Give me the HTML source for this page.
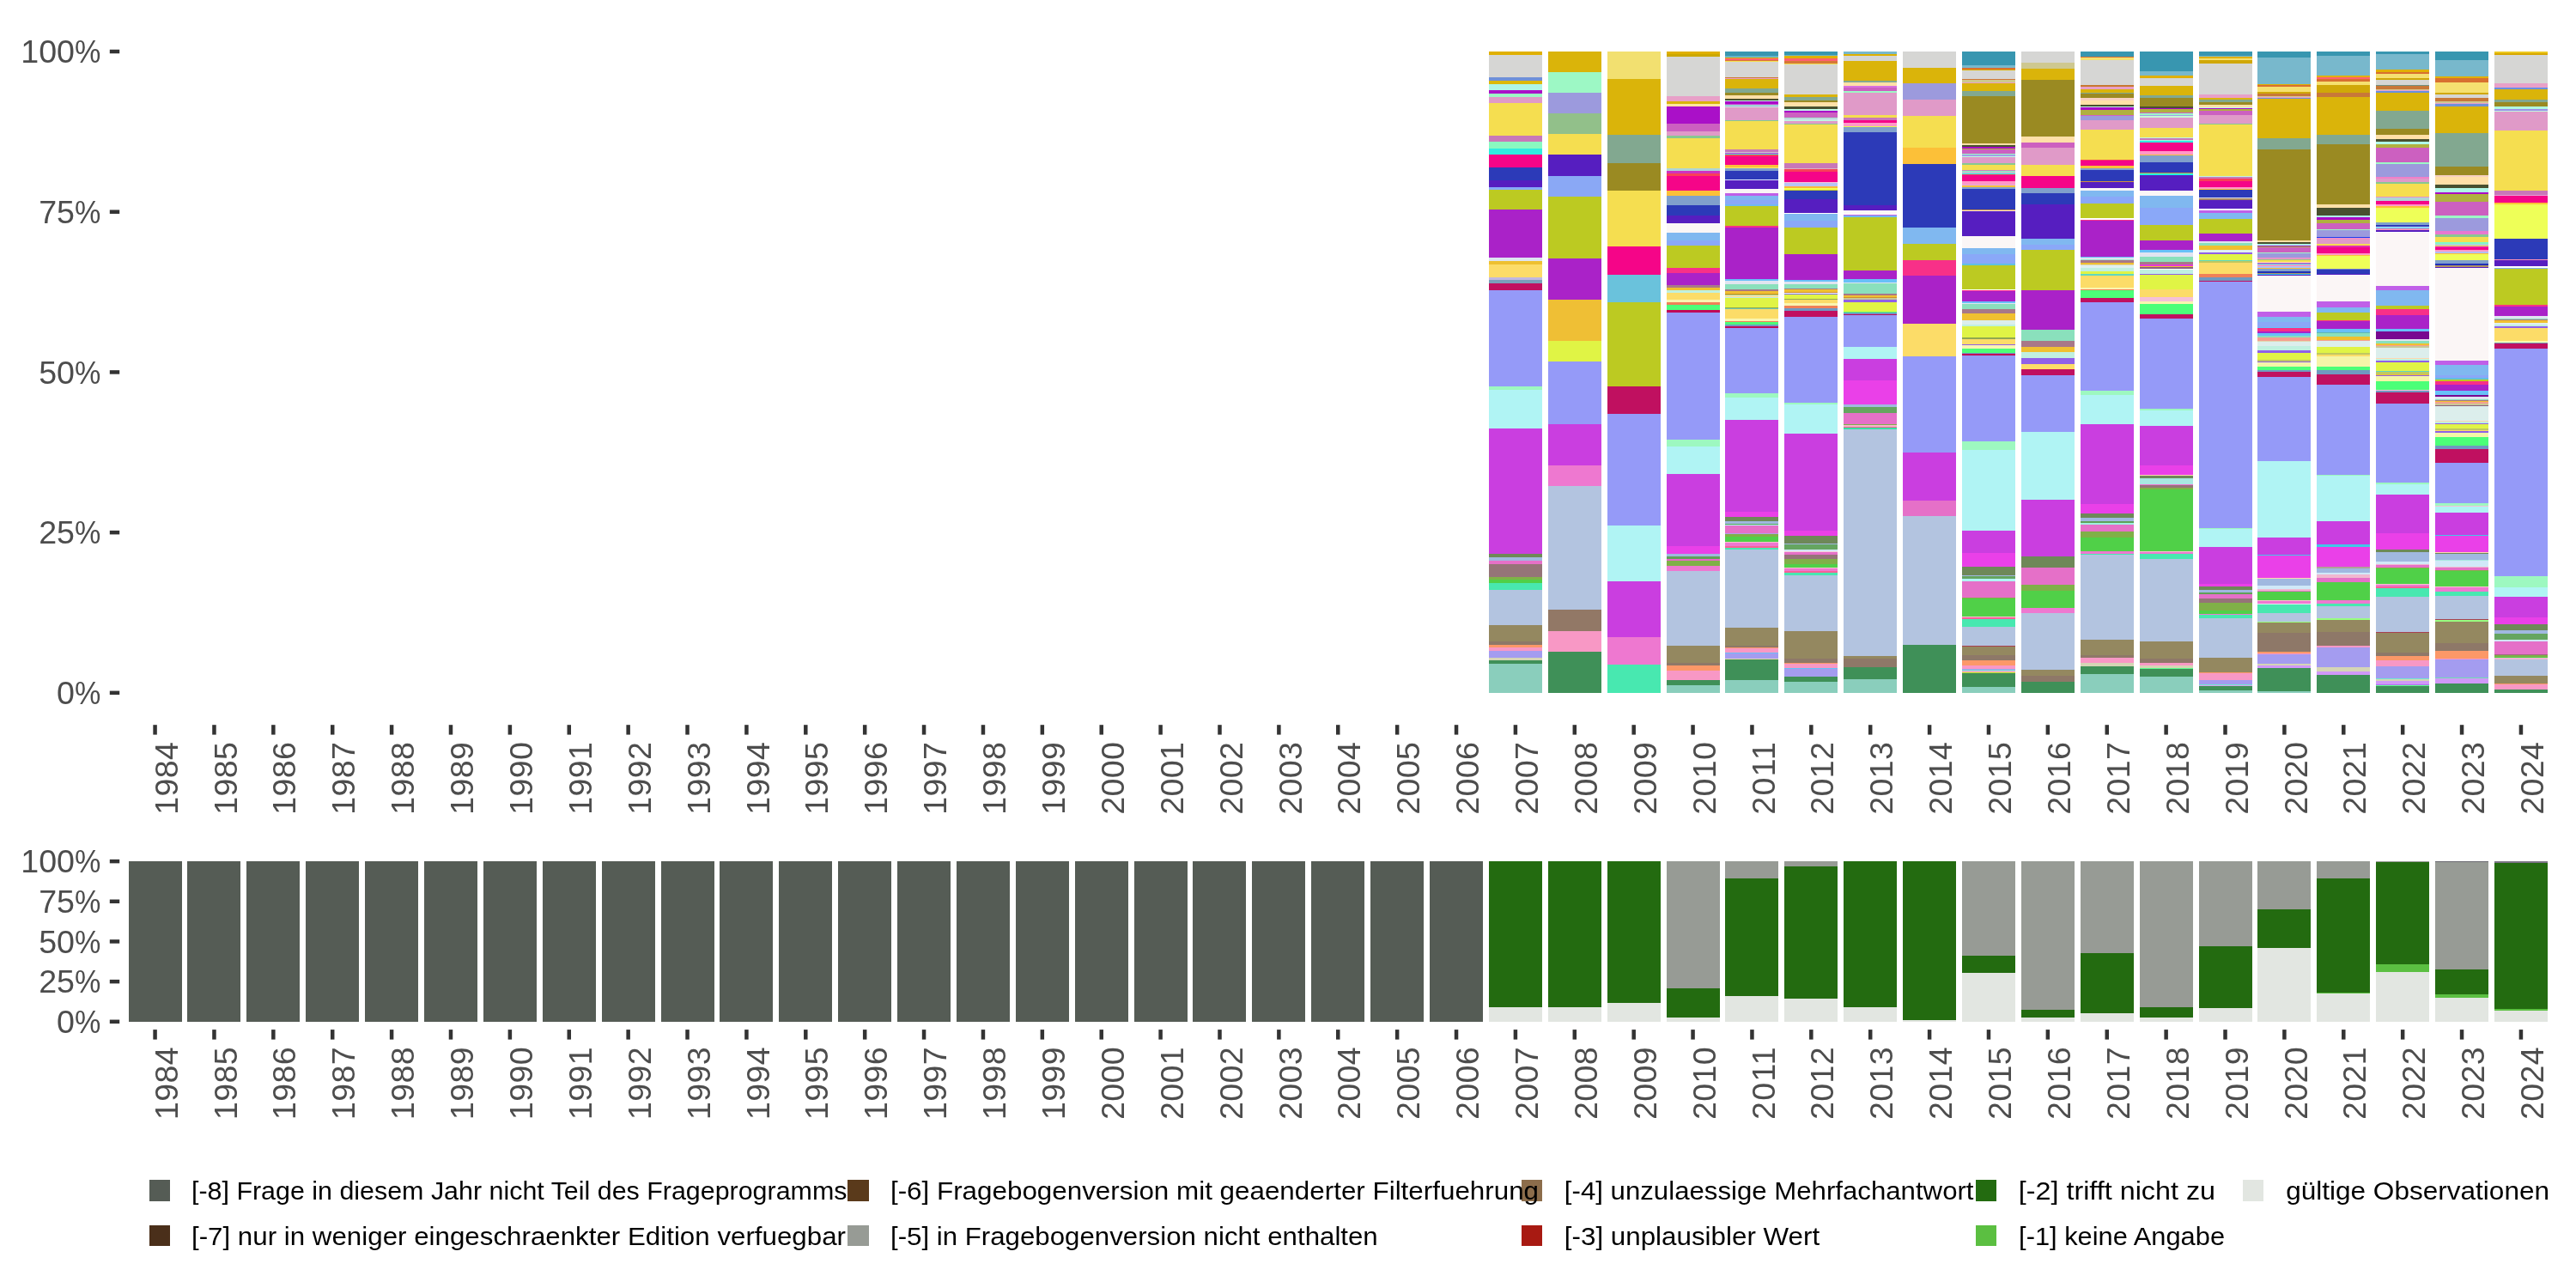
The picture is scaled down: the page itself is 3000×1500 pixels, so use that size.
<!DOCTYPE html>
<html lang="de"><head><meta charset="utf-8"><title>Item-Nonresponse nach Jahr</title>
<style>html,body{margin:0;padding:0;background:#fff}svg{display:block;will-change:transform}text{font-family:"Liberation Sans", sans-serif}.ax{font-size:37.6px;fill:#4D4D4D}.lg{font-size:30.0px;fill:#000}</style></head><body>
<svg width="3000" height="1500" viewBox="0 0 3000 1500">
<rect x="0" y="0" width="3000" height="1500" fill="#fff"/>
<g shape-rendering="crispEdges">
<rect x="1734" y="60.00" width="62" height="3.75" fill="#E0B000"/>
<rect x="1734" y="63.75" width="62" height="26.27" fill="#D6D6D4"/>
<rect x="1734" y="90.02" width="62" height="3.75" fill="#7090D8"/>
<rect x="1734" y="93.78" width="62" height="3.75" fill="#DDB808"/>
<rect x="1734" y="97.53" width="62" height="7.51" fill="#B0F5E5"/>
<rect x="1734" y="105.04" width="62" height="3.75" fill="#AA10C8"/>
<rect x="1734" y="108.79" width="62" height="3.75" fill="#9DF8C5"/>
<rect x="1734" y="112.54" width="62" height="7.51" fill="#E09AC8"/>
<rect x="1734" y="120.05" width="62" height="37.53" fill="#F5DE50"/>
<rect x="1734" y="157.58" width="62" height="7.51" fill="#C878B8"/>
<rect x="1734" y="165.08" width="62" height="7.51" fill="#8AF8C0"/>
<rect x="1734" y="172.59" width="62" height="7.51" fill="#30ECE0"/>
<rect x="1734" y="180.10" width="62" height="15.01" fill="#F50588"/>
<rect x="1734" y="195.11" width="62" height="15.01" fill="#2C3AB8"/>
<rect x="1734" y="210.12" width="62" height="7.51" fill="#561EC0"/>
<rect x="1734" y="217.63" width="62" height="3.75" fill="#88AAF8"/>
<rect x="1734" y="221.38" width="62" height="22.52" fill="#BCCA22"/>
<rect x="1734" y="243.90" width="62" height="56.30" fill="#AA22C8"/>
<rect x="1734" y="300.19" width="62" height="3.75" fill="#DDE4F0"/>
<rect x="1734" y="303.95" width="62" height="3.75" fill="#EEC030"/>
<rect x="1734" y="307.70" width="62" height="15.01" fill="#FCDC68"/>
<rect x="1734" y="322.71" width="62" height="3.75" fill="#C0B8E0"/>
<rect x="1734" y="326.46" width="62" height="3.75" fill="#7A9EBA"/>
<rect x="1734" y="330.22" width="62" height="7.51" fill="#C01060"/>
<rect x="1734" y="337.72" width="62" height="112.59" fill="#959AF8"/>
<rect x="1734" y="450.31" width="62" height="3.75" fill="#9DF8C0"/>
<rect x="1734" y="454.07" width="62" height="45.04" fill="#B0F4F4"/>
<rect x="1734" y="499.10" width="62" height="146.37" fill="#CA3EE0"/>
<rect x="1734" y="645.47" width="62" height="3.75" fill="#6E8858"/>
<rect x="1734" y="649.22" width="62" height="3.75" fill="#A0B8E0"/>
<rect x="1734" y="652.98" width="62" height="3.75" fill="#E570C8"/>
<rect x="1734" y="656.73" width="62" height="15.01" fill="#957478"/>
<rect x="1734" y="671.74" width="62" height="3.75" fill="#80B048"/>
<rect x="1734" y="675.49" width="62" height="3.75" fill="#50D048"/>
<rect x="1734" y="679.25" width="62" height="7.51" fill="#48E8B0"/>
<rect x="1734" y="686.75" width="62" height="41.28" fill="#B3C4E0"/>
<rect x="1734" y="728.04" width="62" height="18.77" fill="#948860"/>
<rect x="1734" y="746.80" width="62" height="3.75" fill="#8E7868"/>
<rect x="1734" y="750.55" width="62" height="3.75" fill="#FC9868"/>
<rect x="1734" y="754.31" width="62" height="3.75" fill="#F898C5"/>
<rect x="1734" y="758.06" width="62" height="7.51" fill="#A49CF0"/>
<rect x="1734" y="765.57" width="62" height="3.75" fill="#D5D5B5"/>
<rect x="1734" y="769.32" width="62" height="3.75" fill="#3F9058"/>
<rect x="1734" y="773.07" width="62" height="33.78" fill="#8ACEBC"/>
<rect x="1803" y="60.00" width="62" height="24.09" fill="#DAB40A"/>
<rect x="1803" y="84.09" width="62" height="24.09" fill="#9DF8C5"/>
<rect x="1803" y="108.18" width="62" height="24.09" fill="#9C9ADD"/>
<rect x="1803" y="132.28" width="62" height="24.09" fill="#92C08A"/>
<rect x="1803" y="156.37" width="62" height="24.09" fill="#F5DE50"/>
<rect x="1803" y="180.46" width="62" height="24.09" fill="#561EC0"/>
<rect x="1803" y="204.55" width="62" height="24.09" fill="#8AA8F5"/>
<rect x="1803" y="228.64" width="62" height="72.28" fill="#BCCA22"/>
<rect x="1803" y="300.92" width="62" height="48.18" fill="#AA22C8"/>
<rect x="1803" y="349.10" width="62" height="48.18" fill="#EFBF35"/>
<rect x="1803" y="397.29" width="62" height="24.09" fill="#E0F445"/>
<rect x="1803" y="421.38" width="62" height="72.28" fill="#959AF8"/>
<rect x="1803" y="493.65" width="62" height="48.18" fill="#CA3EE0"/>
<rect x="1803" y="541.84" width="62" height="24.09" fill="#EE78D0"/>
<rect x="1803" y="565.93" width="62" height="144.55" fill="#B3C4E0"/>
<rect x="1803" y="710.48" width="62" height="24.09" fill="#927866"/>
<rect x="1803" y="734.57" width="62" height="24.09" fill="#F898C5"/>
<rect x="1803" y="758.67" width="62" height="48.18" fill="#3F9058"/>
<rect x="1872" y="60.00" width="62" height="32.47" fill="#F2E070"/>
<rect x="1872" y="92.47" width="62" height="64.94" fill="#DAB40A"/>
<rect x="1872" y="157.42" width="62" height="32.47" fill="#82A890"/>
<rect x="1872" y="189.89" width="62" height="32.47" fill="#9A8A22"/>
<rect x="1872" y="222.36" width="62" height="64.94" fill="#F5DE50"/>
<rect x="1872" y="287.30" width="62" height="32.47" fill="#F50588"/>
<rect x="1872" y="319.77" width="62" height="32.47" fill="#6AC2DC"/>
<rect x="1872" y="352.25" width="62" height="97.42" fill="#BCCA22"/>
<rect x="1872" y="449.66" width="62" height="32.47" fill="#C01060"/>
<rect x="1872" y="482.13" width="62" height="129.89" fill="#959AF8"/>
<rect x="1872" y="612.02" width="62" height="64.94" fill="#B0F4F4"/>
<rect x="1872" y="676.96" width="62" height="64.94" fill="#CA3EE0"/>
<rect x="1872" y="741.91" width="62" height="32.47" fill="#EE78D0"/>
<rect x="1872" y="774.38" width="62" height="32.47" fill="#48E8B0"/>
<rect x="1941" y="60.00" width="62" height="2.89" fill="#E0B000"/>
<rect x="1941" y="62.89" width="62" height="2.89" fill="#CCA800"/>
<rect x="1941" y="65.79" width="62" height="46.32" fill="#D6D6D4"/>
<rect x="1941" y="112.11" width="62" height="5.79" fill="#E8A0C8"/>
<rect x="1941" y="117.90" width="62" height="2.89" fill="#DAB40A"/>
<rect x="1941" y="120.79" width="62" height="2.89" fill="#FFE5A0"/>
<rect x="1941" y="123.68" width="62" height="20.26" fill="#AA10C8"/>
<rect x="1941" y="143.95" width="62" height="8.68" fill="#CC60C0"/>
<rect x="1941" y="152.63" width="62" height="5.79" fill="#E09AC8"/>
<rect x="1941" y="158.42" width="62" height="2.89" fill="#88C890"/>
<rect x="1941" y="161.32" width="62" height="34.74" fill="#F5DE50"/>
<rect x="1941" y="196.05" width="62" height="2.89" fill="#B0D5D5"/>
<rect x="1941" y="198.95" width="62" height="2.89" fill="#D030C0"/>
<rect x="1941" y="201.84" width="62" height="2.89" fill="#F84058"/>
<rect x="1941" y="204.74" width="62" height="17.37" fill="#F50588"/>
<rect x="1941" y="222.11" width="62" height="5.79" fill="#FCC038"/>
<rect x="1941" y="227.90" width="62" height="11.58" fill="#80A0CC"/>
<rect x="1941" y="239.48" width="62" height="11.58" fill="#2C3AB8"/>
<rect x="1941" y="251.05" width="62" height="8.68" fill="#561EC0"/>
<rect x="1941" y="259.74" width="62" height="11.58" fill="#FBF6F6"/>
<rect x="1941" y="271.32" width="62" height="8.68" fill="#80B8F0"/>
<rect x="1941" y="280.00" width="62" height="5.79" fill="#8AA8F8"/>
<rect x="1941" y="285.79" width="62" height="26.05" fill="#BCCA22"/>
<rect x="1941" y="311.84" width="62" height="5.79" fill="#F83088"/>
<rect x="1941" y="317.63" width="62" height="14.47" fill="#AA22C8"/>
<rect x="1941" y="332.11" width="62" height="2.89" fill="#A87888"/>
<rect x="1941" y="335.00" width="62" height="2.89" fill="#F0C030"/>
<rect x="1941" y="337.90" width="62" height="2.89" fill="#C0F0E0"/>
<rect x="1941" y="340.79" width="62" height="8.68" fill="#FCDC68"/>
<rect x="1941" y="349.48" width="62" height="2.89" fill="#FAF5B0"/>
<rect x="1941" y="352.37" width="62" height="2.89" fill="#F08058"/>
<rect x="1941" y="355.27" width="62" height="5.79" fill="#4CFF78"/>
<rect x="1941" y="361.06" width="62" height="2.89" fill="#C00858"/>
<rect x="1941" y="363.95" width="62" height="147.63" fill="#959AF8"/>
<rect x="1941" y="511.58" width="62" height="8.68" fill="#9DF8C0"/>
<rect x="1941" y="520.27" width="62" height="31.84" fill="#B0F4F4"/>
<rect x="1941" y="552.11" width="62" height="83.95" fill="#CA3EE0"/>
<rect x="1941" y="636.06" width="62" height="8.68" fill="#EA40E8"/>
<rect x="1941" y="644.74" width="62" height="2.89" fill="#A0B8E0"/>
<rect x="1941" y="647.64" width="62" height="2.89" fill="#60A058"/>
<rect x="1941" y="650.53" width="62" height="2.89" fill="#E868C8"/>
<rect x="1941" y="653.43" width="62" height="5.79" fill="#80B048"/>
<rect x="1941" y="659.22" width="62" height="5.79" fill="#EE78D0"/>
<rect x="1941" y="665.01" width="62" height="86.84" fill="#B3C4E0"/>
<rect x="1941" y="751.85" width="62" height="20.26" fill="#948860"/>
<rect x="1941" y="772.11" width="62" height="2.89" fill="#8E7868"/>
<rect x="1941" y="775.01" width="62" height="5.79" fill="#FC9868"/>
<rect x="1941" y="780.80" width="62" height="11.58" fill="#F898C5"/>
<rect x="1941" y="792.38" width="62" height="5.79" fill="#3F9058"/>
<rect x="1941" y="798.17" width="62" height="8.68" fill="#8ACEBC"/>
<rect x="2009" y="60.00" width="62" height="5.00" fill="#3896B0"/>
<rect x="2009" y="65.00" width="62" height="2.00" fill="#68B4C8"/>
<rect x="2009" y="67.00" width="62" height="1.00" fill="#E0B000"/>
<rect x="2009" y="68.00" width="62" height="2.40" fill="#FF6070"/>
<rect x="2009" y="70.40" width="62" height="0.60" fill="#D87838"/>
<rect x="2009" y="71.00" width="62" height="1.00" fill="#F5E050"/>
<rect x="2009" y="72.00" width="62" height="18.00" fill="#D6D6D4"/>
<rect x="2009" y="90.00" width="62" height="1.00" fill="#D07838"/>
<rect x="2009" y="91.00" width="62" height="1.00" fill="#E8A0C8"/>
<rect x="2009" y="92.00" width="62" height="11.00" fill="#DAB40A"/>
<rect x="2009" y="103.00" width="62" height="5.00" fill="#82A890"/>
<rect x="2009" y="108.00" width="62" height="3.00" fill="#9A8A22"/>
<rect x="2009" y="111.00" width="62" height="4.00" fill="#FFE0A8"/>
<rect x="2009" y="115.00" width="62" height="2.00" fill="#485030"/>
<rect x="2009" y="117.00" width="62" height="1.00" fill="#C0F8E8"/>
<rect x="2009" y="118.00" width="62" height="3.40" fill="#AA08C8"/>
<rect x="2009" y="121.40" width="62" height="0.60" fill="#C838D8"/>
<rect x="2009" y="122.00" width="62" height="1.00" fill="#9DF8C5"/>
<rect x="2009" y="123.00" width="62" height="1.00" fill="#A0A0E8"/>
<rect x="2009" y="124.00" width="62" height="1.00" fill="#C8F8D8"/>
<rect x="2009" y="125.00" width="62" height="15.00" fill="#E09AC8"/>
<rect x="2009" y="140.00" width="62" height="1.00" fill="#88C890"/>
<rect x="2009" y="141.00" width="62" height="33.00" fill="#F5DE50"/>
<rect x="2009" y="174.00" width="62" height="3.00" fill="#C878B8"/>
<rect x="2009" y="177.00" width="62" height="1.00" fill="#C0D0D0"/>
<rect x="2009" y="178.00" width="62" height="1.00" fill="#E030D0"/>
<rect x="2009" y="179.00" width="62" height="1.00" fill="#30ECE0"/>
<rect x="2009" y="180.00" width="62" height="2.00" fill="#F84058"/>
<rect x="2009" y="182.00" width="62" height="10.00" fill="#F50588"/>
<rect x="2009" y="192.00" width="62" height="3.00" fill="#FCC038"/>
<rect x="2009" y="195.00" width="62" height="1.00" fill="#F8F060"/>
<rect x="2009" y="196.00" width="62" height="3.00" fill="#80A0CC"/>
<rect x="2009" y="199.00" width="62" height="10.00" fill="#2C3AB8"/>
<rect x="2009" y="209.00" width="62" height="1.00" fill="#E0E8FF"/>
<rect x="2009" y="210.00" width="62" height="10.00" fill="#561EC0"/>
<rect x="2009" y="220.00" width="62" height="5.00" fill="#FBF6F6"/>
<rect x="2009" y="225.00" width="62" height="3.00" fill="#C060E8"/>
<rect x="2009" y="228.00" width="62" height="5.00" fill="#80B8F0"/>
<rect x="2009" y="233.00" width="62" height="5.00" fill="#8AA8F8"/>
<rect x="2009" y="238.00" width="62" height="2.00" fill="#70B8F0"/>
<rect x="2009" y="240.00" width="62" height="23.00" fill="#BCCA22"/>
<rect x="2009" y="263.00" width="62" height="2.00" fill="#F83088"/>
<rect x="2009" y="265.00" width="62" height="60.00" fill="#AA22C8"/>
<rect x="2009" y="325.00" width="62" height="2.00" fill="#68C0F8"/>
<rect x="2009" y="327.00" width="62" height="4.00" fill="#E0E4F0"/>
<rect x="2009" y="331.00" width="62" height="6.00" fill="#8AE0BC"/>
<rect x="2009" y="337.00" width="62" height="2.00" fill="#A87888"/>
<rect x="2009" y="339.00" width="62" height="3.00" fill="#F0C030"/>
<rect x="2009" y="342.00" width="62" height="1.00" fill="#D09030"/>
<rect x="2009" y="343.00" width="62" height="1.00" fill="#A8C860"/>
<rect x="2009" y="344.00" width="62" height="1.00" fill="#F8F0D0"/>
<rect x="2009" y="345.00" width="62" height="1.00" fill="#FCD890"/>
<rect x="2009" y="346.00" width="62" height="1.00" fill="#C0F0E0"/>
<rect x="2009" y="347.00" width="62" height="11.00" fill="#E0F445"/>
<rect x="2009" y="358.00" width="62" height="1.00" fill="#90A850"/>
<rect x="2009" y="359.00" width="62" height="1.00" fill="#70C8B0"/>
<rect x="2009" y="360.00" width="62" height="11.00" fill="#FCDC68"/>
<rect x="2009" y="371.00" width="62" height="3.00" fill="#FAF5B0"/>
<rect x="2009" y="374.00" width="62" height="1.00" fill="#F08058"/>
<rect x="2009" y="375.00" width="62" height="3.00" fill="#4CFF78"/>
<rect x="2009" y="378.00" width="62" height="2.00" fill="#7098C0"/>
<rect x="2009" y="380.00" width="62" height="2.00" fill="#C00858"/>
<rect x="2009" y="382.00" width="62" height="76.00" fill="#959AF8"/>
<rect x="2009" y="458.00" width="62" height="5.00" fill="#9DF8C0"/>
<rect x="2009" y="463.00" width="62" height="26.00" fill="#B0F4F4"/>
<rect x="2009" y="489.00" width="62" height="107.00" fill="#CA3EE0"/>
<rect x="2009" y="596.00" width="62" height="6.00" fill="#EA40E8"/>
<rect x="2009" y="602.00" width="62" height="5.00" fill="#6E8858"/>
<rect x="2009" y="607.00" width="62" height="3.00" fill="#A0B8E0"/>
<rect x="2009" y="610.00" width="62" height="1.00" fill="#60A058"/>
<rect x="2009" y="611.00" width="62" height="1.00" fill="#B0F4F4"/>
<rect x="2009" y="612.00" width="62" height="9.00" fill="#E570C8"/>
<rect x="2009" y="621.00" width="62" height="1.00" fill="#B0A0E8"/>
<rect x="2009" y="622.00" width="62" height="3.00" fill="#80B048"/>
<rect x="2009" y="625.00" width="62" height="6.00" fill="#50D048"/>
<rect x="2009" y="631.00" width="62" height="1.00" fill="#F8C0D0"/>
<rect x="2009" y="632.00" width="62" height="4.00" fill="#EE78D0"/>
<rect x="2009" y="636.00" width="62" height="2.00" fill="#F86098"/>
<rect x="2009" y="638.00" width="62" height="2.00" fill="#48E8B0"/>
<rect x="2009" y="640.00" width="62" height="91.00" fill="#B3C4E0"/>
<rect x="2009" y="731.00" width="62" height="21.00" fill="#948860"/>
<rect x="2009" y="752.00" width="62" height="2.00" fill="#8E7868"/>
<rect x="2009" y="754.00" width="62" height="1.00" fill="#FC9868"/>
<rect x="2009" y="755.00" width="62" height="5.00" fill="#F898C5"/>
<rect x="2009" y="760.00" width="62" height="1.00" fill="#68C0F8"/>
<rect x="2009" y="761.00" width="62" height="6.00" fill="#A49CF0"/>
<rect x="2009" y="767.00" width="62" height="1.00" fill="#E8D8B0"/>
<rect x="2009" y="768.00" width="62" height="24.00" fill="#3F9058"/>
<rect x="2009" y="792.00" width="62" height="14.85" fill="#8ACEBC"/>
<rect x="2078" y="60.00" width="62" height="4.00" fill="#3896B0"/>
<rect x="2078" y="64.00" width="62" height="1.00" fill="#68B4C8"/>
<rect x="2078" y="65.00" width="62" height="3.00" fill="#E0B000"/>
<rect x="2078" y="68.00" width="62" height="3.00" fill="#FF6070"/>
<rect x="2078" y="71.00" width="62" height="3.00" fill="#D57838"/>
<rect x="2078" y="74.00" width="62" height="1.00" fill="#F5E050"/>
<rect x="2078" y="75.00" width="62" height="35.00" fill="#D6D6D4"/>
<rect x="2078" y="110.00" width="62" height="3.00" fill="#DAB40A"/>
<rect x="2078" y="113.00" width="62" height="4.00" fill="#82A890"/>
<rect x="2078" y="117.00" width="62" height="2.00" fill="#9A8A22"/>
<rect x="2078" y="119.00" width="62" height="5.00" fill="#FFE0A8"/>
<rect x="2078" y="124.00" width="62" height="3.00" fill="#485030"/>
<rect x="2078" y="127.00" width="62" height="2.00" fill="#C0F8E8"/>
<rect x="2078" y="129.00" width="62" height="2.00" fill="#AA08C8"/>
<rect x="2078" y="131.00" width="62" height="6.00" fill="#CC60C0"/>
<rect x="2078" y="137.00" width="62" height="1.00" fill="#9DF8C5"/>
<rect x="2078" y="138.00" width="62" height="1.00" fill="#D0C0F0"/>
<rect x="2078" y="139.00" width="62" height="2.00" fill="#C0F5E0"/>
<rect x="2078" y="141.00" width="62" height="3.00" fill="#E09AC8"/>
<rect x="2078" y="144.00" width="62" height="1.00" fill="#88C890"/>
<rect x="2078" y="145.00" width="62" height="45.00" fill="#F5DE50"/>
<rect x="2078" y="190.00" width="62" height="6.00" fill="#C878B8"/>
<rect x="2078" y="196.00" width="62" height="1.00" fill="#D8B8C0"/>
<rect x="2078" y="197.00" width="62" height="3.00" fill="#F84058"/>
<rect x="2078" y="200.00" width="62" height="12.00" fill="#F50588"/>
<rect x="2078" y="212.00" width="62" height="1.00" fill="#F8C0D8"/>
<rect x="2078" y="213.00" width="62" height="4.00" fill="#B8C4F4"/>
<rect x="2078" y="217.00" width="62" height="2.00" fill="#FCB838"/>
<rect x="2078" y="219.00" width="62" height="2.00" fill="#F0FF50"/>
<rect x="2078" y="221.00" width="62" height="1.00" fill="#C0C830"/>
<rect x="2078" y="222.00" width="62" height="10.00" fill="#2C3AB8"/>
<rect x="2078" y="232.00" width="62" height="16.00" fill="#561EC0"/>
<rect x="2078" y="248.00" width="62" height="1.00" fill="#FFFFFF"/>
<rect x="2078" y="249.00" width="62" height="8.00" fill="#80B8F0"/>
<rect x="2078" y="257.00" width="62" height="8.00" fill="#8AA8F8"/>
<rect x="2078" y="265.00" width="62" height="31.00" fill="#BCCA22"/>
<rect x="2078" y="296.00" width="62" height="30.00" fill="#AA22C8"/>
<rect x="2078" y="326.00" width="62" height="2.00" fill="#68C0F8"/>
<rect x="2078" y="328.00" width="62" height="3.00" fill="#E0E4F0"/>
<rect x="2078" y="331.00" width="62" height="5.00" fill="#8AE0BC"/>
<rect x="2078" y="336.00" width="62" height="1.00" fill="#A87888"/>
<rect x="2078" y="337.00" width="62" height="3.00" fill="#F0C030"/>
<rect x="2078" y="340.00" width="62" height="1.00" fill="#D09030"/>
<rect x="2078" y="341.00" width="62" height="1.00" fill="#F8F8E8"/>
<rect x="2078" y="342.00" width="62" height="1.00" fill="#8070F0"/>
<rect x="2078" y="343.00" width="62" height="5.00" fill="#E0F445"/>
<rect x="2078" y="348.00" width="62" height="1.00" fill="#90A850"/>
<rect x="2078" y="349.00" width="62" height="4.00" fill="#FCDC68"/>
<rect x="2078" y="353.00" width="62" height="3.00" fill="#FAF5B0"/>
<rect x="2078" y="356.00" width="62" height="3.00" fill="#F08058"/>
<rect x="2078" y="359.00" width="62" height="3.00" fill="#7098C0"/>
<rect x="2078" y="362.00" width="62" height="7.00" fill="#C01060"/>
<rect x="2078" y="369.00" width="62" height="100.00" fill="#959AF8"/>
<rect x="2078" y="469.00" width="62" height="2.00" fill="#9DF8C0"/>
<rect x="2078" y="471.00" width="62" height="34.00" fill="#B0F4F4"/>
<rect x="2078" y="505.00" width="62" height="113.00" fill="#CA3EE0"/>
<rect x="2078" y="618.00" width="62" height="6.00" fill="#EA40E8"/>
<rect x="2078" y="624.00" width="62" height="9.00" fill="#6E8858"/>
<rect x="2078" y="633.00" width="62" height="1.00" fill="#A0B8E0"/>
<rect x="2078" y="634.00" width="62" height="6.00" fill="#65A560"/>
<rect x="2078" y="640.00" width="62" height="2.00" fill="#D0E8F8"/>
<rect x="2078" y="642.00" width="62" height="1.00" fill="#F8D0D8"/>
<rect x="2078" y="643.00" width="62" height="3.00" fill="#E570C8"/>
<rect x="2078" y="646.00" width="62" height="5.00" fill="#957478"/>
<rect x="2078" y="651.00" width="62" height="6.00" fill="#80B048"/>
<rect x="2078" y="657.00" width="62" height="4.00" fill="#50D048"/>
<rect x="2078" y="661.00" width="62" height="1.00" fill="#F8C0D0"/>
<rect x="2078" y="662.00" width="62" height="3.00" fill="#EE78D0"/>
<rect x="2078" y="665.00" width="62" height="2.00" fill="#F86098"/>
<rect x="2078" y="667.00" width="62" height="3.00" fill="#48E8B0"/>
<rect x="2078" y="670.00" width="62" height="65.00" fill="#B3C4E0"/>
<rect x="2078" y="735.00" width="62" height="32.00" fill="#948860"/>
<rect x="2078" y="767.00" width="62" height="5.00" fill="#8E7868"/>
<rect x="2078" y="772.00" width="62" height="1.00" fill="#FC9868"/>
<rect x="2078" y="773.00" width="62" height="5.00" fill="#F898C5"/>
<rect x="2078" y="778.00" width="62" height="1.00" fill="#68C0F8"/>
<rect x="2078" y="779.00" width="62" height="9.00" fill="#A49CF0"/>
<rect x="2078" y="788.00" width="62" height="6.00" fill="#3F9058"/>
<rect x="2078" y="794.00" width="62" height="12.85" fill="#8ACEBC"/>
<rect x="2147" y="60.00" width="62" height="3.00" fill="#78B8CC"/>
<rect x="2147" y="63.00" width="62" height="2.00" fill="#E0B000"/>
<rect x="2147" y="65.00" width="62" height="6.00" fill="#D6D6D4"/>
<rect x="2147" y="71.00" width="62" height="23.00" fill="#DAB40A"/>
<rect x="2147" y="94.00" width="62" height="2.00" fill="#82A890"/>
<rect x="2147" y="96.00" width="62" height="4.00" fill="#FFE0A8"/>
<rect x="2147" y="100.00" width="62" height="2.00" fill="#D870E0"/>
<rect x="2147" y="102.00" width="62" height="4.00" fill="#CC60C0"/>
<rect x="2147" y="106.00" width="62" height="2.00" fill="#9DF8C5"/>
<rect x="2147" y="108.00" width="62" height="26.00" fill="#E09AC8"/>
<rect x="2147" y="134.00" width="62" height="3.00" fill="#F5DE50"/>
<rect x="2147" y="137.00" width="62" height="3.00" fill="#C878B8"/>
<rect x="2147" y="140.00" width="62" height="3.00" fill="#F50588"/>
<rect x="2147" y="143.00" width="62" height="4.00" fill="#FF98C8"/>
<rect x="2147" y="147.00" width="62" height="1.00" fill="#E8F850"/>
<rect x="2147" y="148.00" width="62" height="6.00" fill="#80A0CC"/>
<rect x="2147" y="154.00" width="62" height="85.00" fill="#2C3AB8"/>
<rect x="2147" y="239.00" width="62" height="6.00" fill="#561EC0"/>
<rect x="2147" y="245.00" width="62" height="4.00" fill="#FBF6F6"/>
<rect x="2147" y="249.00" width="62" height="1.00" fill="#FFFFFF"/>
<rect x="2147" y="250.00" width="62" height="1.00" fill="#C060E8"/>
<rect x="2147" y="251.00" width="62" height="2.00" fill="#70B8F0"/>
<rect x="2147" y="253.00" width="62" height="62.00" fill="#BCCA22"/>
<rect x="2147" y="315.00" width="62" height="10.00" fill="#AA22C8"/>
<rect x="2147" y="325.00" width="62" height="4.00" fill="#68C0F8"/>
<rect x="2147" y="329.00" width="62" height="1.00" fill="#E0E4F0"/>
<rect x="2147" y="330.00" width="62" height="12.00" fill="#8AE0BC"/>
<rect x="2147" y="342.00" width="62" height="2.00" fill="#A87888"/>
<rect x="2147" y="344.00" width="62" height="2.00" fill="#F0C030"/>
<rect x="2147" y="346.00" width="62" height="1.00" fill="#D09030"/>
<rect x="2147" y="347.00" width="62" height="2.00" fill="#C8C898"/>
<rect x="2147" y="349.00" width="62" height="3.00" fill="#9060E8"/>
<rect x="2147" y="352.00" width="62" height="11.00" fill="#E0F445"/>
<rect x="2147" y="363.00" width="62" height="1.00" fill="#4CFF78"/>
<rect x="2147" y="364.00" width="62" height="2.00" fill="#7098C0"/>
<rect x="2147" y="366.00" width="62" height="1.00" fill="#C00858"/>
<rect x="2147" y="367.00" width="62" height="37.00" fill="#959AF8"/>
<rect x="2147" y="404.00" width="62" height="14.00" fill="#B0F4F4"/>
<rect x="2147" y="418.00" width="62" height="25.00" fill="#CA3EE0"/>
<rect x="2147" y="443.00" width="62" height="28.00" fill="#EA40E8"/>
<rect x="2147" y="471.00" width="62" height="3.00" fill="#A0B8E0"/>
<rect x="2147" y="474.00" width="62" height="7.00" fill="#65A560"/>
<rect x="2147" y="481.00" width="62" height="13.00" fill="#E570C8"/>
<rect x="2147" y="494.00" width="62" height="1.00" fill="#80B048"/>
<rect x="2147" y="495.00" width="62" height="2.00" fill="#F0B8C8"/>
<rect x="2147" y="497.00" width="62" height="1.00" fill="#F86098"/>
<rect x="2147" y="498.00" width="62" height="2.00" fill="#38E0A0"/>
<rect x="2147" y="500.00" width="62" height="264.00" fill="#B3C4E0"/>
<rect x="2147" y="764.00" width="62" height="3.00" fill="#948860"/>
<rect x="2147" y="767.00" width="62" height="10.00" fill="#8E7868"/>
<rect x="2147" y="777.00" width="62" height="14.00" fill="#3F9058"/>
<rect x="2147" y="791.00" width="62" height="15.85" fill="#8ACEBC"/>
<rect x="2216" y="60.00" width="62" height="18.67" fill="#D6D6D4"/>
<rect x="2216" y="78.67" width="62" height="18.67" fill="#DAB40A"/>
<rect x="2216" y="97.34" width="62" height="18.67" fill="#9C9ADD"/>
<rect x="2216" y="116.01" width="62" height="18.67" fill="#E09AC8"/>
<rect x="2216" y="134.69" width="62" height="37.34" fill="#F5DE50"/>
<rect x="2216" y="172.03" width="62" height="18.67" fill="#FCC038"/>
<rect x="2216" y="190.70" width="62" height="74.69" fill="#2C3AB8"/>
<rect x="2216" y="265.38" width="62" height="18.67" fill="#80B8F0"/>
<rect x="2216" y="284.06" width="62" height="18.67" fill="#BCCA22"/>
<rect x="2216" y="302.73" width="62" height="18.67" fill="#F83088"/>
<rect x="2216" y="321.40" width="62" height="56.01" fill="#AA22C8"/>
<rect x="2216" y="377.41" width="62" height="37.34" fill="#FCDC68"/>
<rect x="2216" y="414.75" width="62" height="112.03" fill="#959AF8"/>
<rect x="2216" y="526.78" width="62" height="56.01" fill="#CA3EE0"/>
<rect x="2216" y="582.80" width="62" height="18.67" fill="#E570C8"/>
<rect x="2216" y="601.47" width="62" height="149.37" fill="#B3C4E0"/>
<rect x="2216" y="750.84" width="62" height="56.01" fill="#3F9058"/>
<rect x="2285" y="60.00" width="62" height="16.00" fill="#3896B0"/>
<rect x="2285" y="76.00" width="62" height="3.00" fill="#78B8CC"/>
<rect x="2285" y="79.00" width="62" height="2.00" fill="#D87030"/>
<rect x="2285" y="81.00" width="62" height="1.00" fill="#E0B000"/>
<rect x="2285" y="82.00" width="62" height="10.00" fill="#D6D6D4"/>
<rect x="2285" y="92.00" width="62" height="1.00" fill="#D07838"/>
<rect x="2285" y="93.00" width="62" height="3.00" fill="#CEC890"/>
<rect x="2285" y="96.00" width="62" height="1.00" fill="#E8A0C8"/>
<rect x="2285" y="97.00" width="62" height="9.00" fill="#DAB40A"/>
<rect x="2285" y="106.00" width="62" height="6.00" fill="#82A890"/>
<rect x="2285" y="112.00" width="62" height="55.00" fill="#9A8A22"/>
<rect x="2285" y="167.00" width="62" height="2.00" fill="#FFE0A8"/>
<rect x="2285" y="169.00" width="62" height="2.00" fill="#485030"/>
<rect x="2285" y="171.00" width="62" height="2.00" fill="#AA08C8"/>
<rect x="2285" y="173.00" width="62" height="1.00" fill="#B0B040"/>
<rect x="2285" y="174.00" width="62" height="5.00" fill="#CC60C0"/>
<rect x="2285" y="179.00" width="62" height="1.00" fill="#9DF8C5"/>
<rect x="2285" y="180.00" width="62" height="2.00" fill="#A0A0E8"/>
<rect x="2285" y="182.00" width="62" height="1.00" fill="#C0F8E0"/>
<rect x="2285" y="183.00" width="62" height="7.00" fill="#E09AC8"/>
<rect x="2285" y="190.00" width="62" height="2.00" fill="#88C890"/>
<rect x="2285" y="192.00" width="62" height="6.00" fill="#F5DE50"/>
<rect x="2285" y="198.00" width="62" height="1.00" fill="#D080C0"/>
<rect x="2285" y="199.00" width="62" height="1.00" fill="#90F0C0"/>
<rect x="2285" y="200.00" width="62" height="2.00" fill="#B8C8D0"/>
<rect x="2285" y="202.00" width="62" height="1.00" fill="#30ECE0"/>
<rect x="2285" y="203.00" width="62" height="1.00" fill="#F84058"/>
<rect x="2285" y="204.00" width="62" height="7.00" fill="#F50588"/>
<rect x="2285" y="211.00" width="62" height="4.00" fill="#FF98C8"/>
<rect x="2285" y="215.00" width="62" height="1.00" fill="#E0B0E0"/>
<rect x="2285" y="216.00" width="62" height="2.00" fill="#FCC038"/>
<rect x="2285" y="218.00" width="62" height="2.00" fill="#80A0CC"/>
<rect x="2285" y="220.00" width="62" height="24.00" fill="#2C3AB8"/>
<rect x="2285" y="244.00" width="62" height="1.00" fill="#D09040"/>
<rect x="2285" y="245.00" width="62" height="1.00" fill="#FFE8D8"/>
<rect x="2285" y="246.00" width="62" height="29.00" fill="#561EC0"/>
<rect x="2285" y="275.00" width="62" height="14.00" fill="#FBF6F6"/>
<rect x="2285" y="289.00" width="62" height="7.00" fill="#80B8F0"/>
<rect x="2285" y="296.00" width="62" height="11.00" fill="#8AA8F8"/>
<rect x="2285" y="307.00" width="62" height="2.00" fill="#60C0E0"/>
<rect x="2285" y="309.00" width="62" height="28.00" fill="#BCCA22"/>
<rect x="2285" y="337.00" width="62" height="1.00" fill="#FFFFFF"/>
<rect x="2285" y="338.00" width="62" height="1.00" fill="#F83088"/>
<rect x="2285" y="339.00" width="62" height="12.00" fill="#AA22C8"/>
<rect x="2285" y="351.00" width="62" height="2.00" fill="#68C0F8"/>
<rect x="2285" y="353.00" width="62" height="1.00" fill="#E0E4F0"/>
<rect x="2285" y="354.00" width="62" height="6.00" fill="#8AE0BC"/>
<rect x="2285" y="360.00" width="62" height="5.00" fill="#A87888"/>
<rect x="2285" y="365.00" width="62" height="8.00" fill="#F0C030"/>
<rect x="2285" y="373.00" width="62" height="5.00" fill="#DCEEEC"/>
<rect x="2285" y="378.00" width="62" height="2.00" fill="#C0F0E0"/>
<rect x="2285" y="380.00" width="62" height="13.00" fill="#E0F445"/>
<rect x="2285" y="393.00" width="62" height="2.00" fill="#90A850"/>
<rect x="2285" y="395.00" width="62" height="6.00" fill="#FCDC68"/>
<rect x="2285" y="401.00" width="62" height="1.00" fill="#9060E8"/>
<rect x="2285" y="402.00" width="62" height="4.00" fill="#FAF5B0"/>
<rect x="2285" y="406.00" width="62" height="5.00" fill="#4CFF78"/>
<rect x="2285" y="411.00" width="62" height="1.00" fill="#7098C0"/>
<rect x="2285" y="412.00" width="62" height="2.00" fill="#C00858"/>
<rect x="2285" y="414.00" width="62" height="100.00" fill="#959AF8"/>
<rect x="2285" y="514.00" width="62" height="10.00" fill="#9DF8C0"/>
<rect x="2285" y="524.00" width="62" height="94.00" fill="#B0F4F4"/>
<rect x="2285" y="618.00" width="62" height="26.00" fill="#CA3EE0"/>
<rect x="2285" y="644.00" width="62" height="16.00" fill="#EA40E8"/>
<rect x="2285" y="660.00" width="62" height="10.00" fill="#6E8858"/>
<rect x="2285" y="670.00" width="62" height="1.00" fill="#A0B8E0"/>
<rect x="2285" y="671.00" width="62" height="3.00" fill="#65A560"/>
<rect x="2285" y="674.00" width="62" height="3.00" fill="#B0F4F4"/>
<rect x="2285" y="677.00" width="62" height="19.00" fill="#E570C8"/>
<rect x="2285" y="696.00" width="62" height="1.00" fill="#80B048"/>
<rect x="2285" y="697.00" width="62" height="21.00" fill="#50D048"/>
<rect x="2285" y="718.00" width="62" height="1.00" fill="#F8C0D0"/>
<rect x="2285" y="719.00" width="62" height="2.00" fill="#F86098"/>
<rect x="2285" y="721.00" width="62" height="9.00" fill="#48E8B0"/>
<rect x="2285" y="730.00" width="62" height="22.00" fill="#B3C4E0"/>
<rect x="2285" y="752.00" width="62" height="1.00" fill="#A84050"/>
<rect x="2285" y="753.00" width="62" height="10.00" fill="#948860"/>
<rect x="2285" y="763.00" width="62" height="6.00" fill="#8E7868"/>
<rect x="2285" y="769.00" width="62" height="6.00" fill="#FC9868"/>
<rect x="2285" y="775.00" width="62" height="4.00" fill="#F898C5"/>
<rect x="2285" y="779.00" width="62" height="1.00" fill="#A49CF0"/>
<rect x="2285" y="780.00" width="62" height="1.00" fill="#70E8D0"/>
<rect x="2285" y="781.00" width="62" height="1.00" fill="#D8A0F0"/>
<rect x="2285" y="782.00" width="62" height="1.00" fill="#F8C890"/>
<rect x="2285" y="783.00" width="62" height="1.00" fill="#B8D840"/>
<rect x="2285" y="784.00" width="62" height="16.00" fill="#3F9058"/>
<rect x="2285" y="800.00" width="62" height="6.85" fill="#8ACEBC"/>
<rect x="2354" y="60.00" width="62" height="13.22" fill="#D6D6D4"/>
<rect x="2354" y="73.22" width="62" height="6.61" fill="#CEC890"/>
<rect x="2354" y="79.83" width="62" height="13.22" fill="#DAB40A"/>
<rect x="2354" y="93.05" width="62" height="66.09" fill="#9A8A22"/>
<rect x="2354" y="159.14" width="62" height="6.61" fill="#FFE0A8"/>
<rect x="2354" y="165.75" width="62" height="6.61" fill="#CC60C0"/>
<rect x="2354" y="172.36" width="62" height="19.83" fill="#E09AC8"/>
<rect x="2354" y="192.19" width="62" height="13.22" fill="#F5DE50"/>
<rect x="2354" y="205.40" width="62" height="13.22" fill="#F50588"/>
<rect x="2354" y="218.62" width="62" height="6.61" fill="#80A0CC"/>
<rect x="2354" y="225.23" width="62" height="13.22" fill="#2C3AB8"/>
<rect x="2354" y="238.45" width="62" height="39.66" fill="#561EC0"/>
<rect x="2354" y="278.11" width="62" height="6.61" fill="#80B8F0"/>
<rect x="2354" y="284.72" width="62" height="6.61" fill="#8AA8F8"/>
<rect x="2354" y="291.33" width="62" height="46.27" fill="#BCCA22"/>
<rect x="2354" y="337.59" width="62" height="46.27" fill="#AA22C8"/>
<rect x="2354" y="383.86" width="62" height="13.22" fill="#8AE0BC"/>
<rect x="2354" y="397.07" width="62" height="6.61" fill="#A87888"/>
<rect x="2354" y="403.68" width="62" height="6.61" fill="#F0C030"/>
<rect x="2354" y="410.29" width="62" height="6.61" fill="#C0F0E0"/>
<rect x="2354" y="416.90" width="62" height="6.61" fill="#9060E8"/>
<rect x="2354" y="423.51" width="62" height="6.61" fill="#FCDC68"/>
<rect x="2354" y="430.12" width="62" height="6.61" fill="#C01060"/>
<rect x="2354" y="436.73" width="62" height="66.09" fill="#959AF8"/>
<rect x="2354" y="502.82" width="62" height="79.31" fill="#B0F4F4"/>
<rect x="2354" y="582.13" width="62" height="66.09" fill="#CA3EE0"/>
<rect x="2354" y="648.23" width="62" height="13.22" fill="#6E8858"/>
<rect x="2354" y="661.45" width="62" height="19.83" fill="#E570C8"/>
<rect x="2354" y="681.27" width="62" height="6.61" fill="#80B048"/>
<rect x="2354" y="687.88" width="62" height="19.83" fill="#50D048"/>
<rect x="2354" y="707.71" width="62" height="6.61" fill="#EE78D0"/>
<rect x="2354" y="714.32" width="62" height="66.09" fill="#B3C4E0"/>
<rect x="2354" y="780.41" width="62" height="6.61" fill="#948860"/>
<rect x="2354" y="787.02" width="62" height="6.61" fill="#8E7868"/>
<rect x="2354" y="793.63" width="62" height="13.22" fill="#3F9058"/>
<rect x="2423" y="60.00" width="62" height="6.00" fill="#3896B0"/>
<rect x="2423" y="66.00" width="62" height="1.00" fill="#D87030"/>
<rect x="2423" y="67.00" width="62" height="3.00" fill="#F5E070"/>
<rect x="2423" y="70.00" width="62" height="29.00" fill="#D6D6D4"/>
<rect x="2423" y="99.00" width="62" height="2.00" fill="#C87830"/>
<rect x="2423" y="101.00" width="62" height="3.00" fill="#E8A0C8"/>
<rect x="2423" y="104.00" width="62" height="4.00" fill="#DAB40A"/>
<rect x="2423" y="108.00" width="62" height="1.00" fill="#82A890"/>
<rect x="2423" y="109.00" width="62" height="5.00" fill="#9A8A22"/>
<rect x="2423" y="114.00" width="62" height="3.00" fill="#F8D0C0"/>
<rect x="2423" y="117.00" width="62" height="5.00" fill="#FFE0A8"/>
<rect x="2423" y="122.00" width="62" height="2.00" fill="#485030"/>
<rect x="2423" y="124.00" width="62" height="1.00" fill="#C0F8E8"/>
<rect x="2423" y="125.00" width="62" height="3.00" fill="#AA08C8"/>
<rect x="2423" y="128.00" width="62" height="6.00" fill="#B0B040"/>
<rect x="2423" y="134.00" width="62" height="1.00" fill="#D060C8"/>
<rect x="2423" y="135.00" width="62" height="5.00" fill="#9C9ADD"/>
<rect x="2423" y="140.00" width="62" height="11.00" fill="#E09AC8"/>
<rect x="2423" y="151.00" width="62" height="35.00" fill="#F5DE50"/>
<rect x="2423" y="186.00" width="62" height="1.00" fill="#F84058"/>
<rect x="2423" y="187.00" width="62" height="6.00" fill="#F50588"/>
<rect x="2423" y="193.00" width="62" height="3.00" fill="#FCC038"/>
<rect x="2423" y="196.00" width="62" height="2.00" fill="#80A0CC"/>
<rect x="2423" y="198.00" width="62" height="13.00" fill="#2C3AB8"/>
<rect x="2423" y="211.00" width="62" height="1.00" fill="#D09040"/>
<rect x="2423" y="212.00" width="62" height="7.00" fill="#561EC0"/>
<rect x="2423" y="219.00" width="62" height="3.00" fill="#FBF6F6"/>
<rect x="2423" y="222.00" width="62" height="7.00" fill="#80B8F0"/>
<rect x="2423" y="229.00" width="62" height="8.00" fill="#8AA8F8"/>
<rect x="2423" y="237.00" width="62" height="17.00" fill="#BCCA22"/>
<rect x="2423" y="254.00" width="62" height="2.00" fill="#FFFFFF"/>
<rect x="2423" y="256.00" width="62" height="1.00" fill="#F83088"/>
<rect x="2423" y="257.00" width="62" height="42.00" fill="#AA22C8"/>
<rect x="2423" y="299.00" width="62" height="1.00" fill="#68C0F8"/>
<rect x="2423" y="300.00" width="62" height="2.00" fill="#E0E4F0"/>
<rect x="2423" y="302.00" width="62" height="1.00" fill="#A0E8D0"/>
<rect x="2423" y="303.00" width="62" height="3.00" fill="#A87888"/>
<rect x="2423" y="306.00" width="62" height="2.00" fill="#F0C030"/>
<rect x="2423" y="308.00" width="62" height="1.00" fill="#E0D8B0"/>
<rect x="2423" y="309.00" width="62" height="3.00" fill="#E0F0F0"/>
<rect x="2423" y="312.00" width="62" height="4.00" fill="#C0F0E0"/>
<rect x="2423" y="316.00" width="62" height="3.00" fill="#E0F445"/>
<rect x="2423" y="319.00" width="62" height="2.00" fill="#60D8C0"/>
<rect x="2423" y="321.00" width="62" height="14.00" fill="#FCDC68"/>
<rect x="2423" y="335.00" width="62" height="2.00" fill="#FAF5B0"/>
<rect x="2423" y="337.00" width="62" height="1.00" fill="#F08058"/>
<rect x="2423" y="338.00" width="62" height="9.00" fill="#4CFF78"/>
<rect x="2423" y="347.00" width="62" height="5.00" fill="#C01060"/>
<rect x="2423" y="352.00" width="62" height="103.00" fill="#959AF8"/>
<rect x="2423" y="455.00" width="62" height="5.00" fill="#9DF8C0"/>
<rect x="2423" y="460.00" width="62" height="34.00" fill="#B0F4F4"/>
<rect x="2423" y="494.00" width="62" height="93.00" fill="#CA3EE0"/>
<rect x="2423" y="587.00" width="62" height="11.00" fill="#EA40E8"/>
<rect x="2423" y="598.00" width="62" height="5.00" fill="#6E8858"/>
<rect x="2423" y="603.00" width="62" height="4.00" fill="#A0B8E0"/>
<rect x="2423" y="607.00" width="62" height="2.00" fill="#60A058"/>
<rect x="2423" y="609.00" width="62" height="2.00" fill="#A0F0E0"/>
<rect x="2423" y="611.00" width="62" height="8.00" fill="#E570C8"/>
<rect x="2423" y="619.00" width="62" height="7.00" fill="#80B048"/>
<rect x="2423" y="626.00" width="62" height="16.00" fill="#50D048"/>
<rect x="2423" y="642.00" width="62" height="3.00" fill="#EE78D0"/>
<rect x="2423" y="645.00" width="62" height="1.00" fill="#48E8B0"/>
<rect x="2423" y="646.00" width="62" height="99.00" fill="#B3C4E0"/>
<rect x="2423" y="745.00" width="62" height="18.00" fill="#948860"/>
<rect x="2423" y="763.00" width="62" height="3.00" fill="#8E7868"/>
<rect x="2423" y="766.00" width="62" height="6.00" fill="#F898C5"/>
<rect x="2423" y="772.00" width="62" height="4.00" fill="#D5D5B5"/>
<rect x="2423" y="776.00" width="62" height="9.00" fill="#3F9058"/>
<rect x="2423" y="785.00" width="62" height="21.85" fill="#8ACEBC"/>
<rect x="2492" y="60.00" width="62" height="23.00" fill="#3896B0"/>
<rect x="2492" y="83.00" width="62" height="5.00" fill="#78B8CC"/>
<rect x="2492" y="88.00" width="62" height="3.00" fill="#E0B000"/>
<rect x="2492" y="91.00" width="62" height="9.00" fill="#D6D6D4"/>
<rect x="2492" y="100.00" width="62" height="11.00" fill="#DAB40A"/>
<rect x="2492" y="111.00" width="62" height="3.00" fill="#82A890"/>
<rect x="2492" y="114.00" width="62" height="10.00" fill="#9A8A22"/>
<rect x="2492" y="124.00" width="62" height="2.00" fill="#485030"/>
<rect x="2492" y="126.00" width="62" height="1.00" fill="#AA08C8"/>
<rect x="2492" y="127.00" width="62" height="4.00" fill="#B0B040"/>
<rect x="2492" y="131.00" width="62" height="1.00" fill="#D060C8"/>
<rect x="2492" y="132.00" width="62" height="2.00" fill="#9DF8C5"/>
<rect x="2492" y="134.00" width="62" height="1.00" fill="#A0A0E8"/>
<rect x="2492" y="135.00" width="62" height="2.00" fill="#C8F8D8"/>
<rect x="2492" y="137.00" width="62" height="12.00" fill="#E09AC8"/>
<rect x="2492" y="149.00" width="62" height="11.00" fill="#F5DE50"/>
<rect x="2492" y="160.00" width="62" height="1.00" fill="#C0F8E0"/>
<rect x="2492" y="161.00" width="62" height="2.00" fill="#C878B8"/>
<rect x="2492" y="163.00" width="62" height="1.00" fill="#B0F0E0"/>
<rect x="2492" y="164.00" width="62" height="2.00" fill="#30ECE0"/>
<rect x="2492" y="166.00" width="62" height="10.00" fill="#F50588"/>
<rect x="2492" y="176.00" width="62" height="4.00" fill="#FF98C8"/>
<rect x="2492" y="180.00" width="62" height="1.00" fill="#FCC038"/>
<rect x="2492" y="181.00" width="62" height="8.00" fill="#80A0CC"/>
<rect x="2492" y="189.00" width="62" height="12.00" fill="#2C3AB8"/>
<rect x="2492" y="201.00" width="62" height="1.00" fill="#D09040"/>
<rect x="2492" y="202.00" width="62" height="2.00" fill="#20F8E0"/>
<rect x="2492" y="204.00" width="62" height="18.00" fill="#561EC0"/>
<rect x="2492" y="222.00" width="62" height="6.00" fill="#FBF6F6"/>
<rect x="2492" y="228.00" width="62" height="14.00" fill="#80B8F0"/>
<rect x="2492" y="242.00" width="62" height="20.00" fill="#8AA8F8"/>
<rect x="2492" y="262.00" width="62" height="18.00" fill="#BCCA22"/>
<rect x="2492" y="280.00" width="62" height="11.00" fill="#AA22C8"/>
<rect x="2492" y="291.00" width="62" height="3.00" fill="#68C0F8"/>
<rect x="2492" y="294.00" width="62" height="5.00" fill="#E0E4F0"/>
<rect x="2492" y="299.00" width="62" height="6.00" fill="#8AE0BC"/>
<rect x="2492" y="305.00" width="62" height="3.00" fill="#A87888"/>
<rect x="2492" y="308.00" width="62" height="2.00" fill="#E838D8"/>
<rect x="2492" y="310.00" width="62" height="1.00" fill="#F0C030"/>
<rect x="2492" y="311.00" width="62" height="2.00" fill="#886080"/>
<rect x="2492" y="313.00" width="62" height="1.00" fill="#FFFFFF"/>
<rect x="2492" y="314.00" width="62" height="5.00" fill="#C0F0E0"/>
<rect x="2492" y="319.00" width="62" height="1.00" fill="#9060E8"/>
<rect x="2492" y="320.00" width="62" height="17.00" fill="#E0F445"/>
<rect x="2492" y="337.00" width="62" height="9.00" fill="#FCDC68"/>
<rect x="2492" y="346.00" width="62" height="5.00" fill="#F5C0D8"/>
<rect x="2492" y="351.00" width="62" height="3.00" fill="#FAF5B0"/>
<rect x="2492" y="354.00" width="62" height="12.00" fill="#4CFF78"/>
<rect x="2492" y="366.00" width="62" height="5.00" fill="#C01060"/>
<rect x="2492" y="371.00" width="62" height="105.00" fill="#959AF8"/>
<rect x="2492" y="476.00" width="62" height="2.00" fill="#9DF8C0"/>
<rect x="2492" y="478.00" width="62" height="18.00" fill="#B0F4F4"/>
<rect x="2492" y="496.00" width="62" height="46.00" fill="#CA3EE0"/>
<rect x="2492" y="542.00" width="62" height="11.00" fill="#EA40E8"/>
<rect x="2492" y="553.00" width="62" height="1.00" fill="#FFD8B0"/>
<rect x="2492" y="554.00" width="62" height="3.00" fill="#6E8858"/>
<rect x="2492" y="557.00" width="62" height="7.00" fill="#A8E8E0"/>
<rect x="2492" y="564.00" width="62" height="1.00" fill="#EE78D0"/>
<rect x="2492" y="565.00" width="62" height="3.00" fill="#957478"/>
<rect x="2492" y="568.00" width="62" height="2.00" fill="#80B048"/>
<rect x="2492" y="570.00" width="62" height="72.00" fill="#50D048"/>
<rect x="2492" y="642.00" width="62" height="1.00" fill="#F8C0D0"/>
<rect x="2492" y="643.00" width="62" height="2.00" fill="#EE78D0"/>
<rect x="2492" y="645.00" width="62" height="6.00" fill="#48E8B0"/>
<rect x="2492" y="651.00" width="62" height="96.00" fill="#B3C4E0"/>
<rect x="2492" y="747.00" width="62" height="20.00" fill="#948860"/>
<rect x="2492" y="767.00" width="62" height="5.00" fill="#8E7868"/>
<rect x="2492" y="772.00" width="62" height="3.00" fill="#F898C5"/>
<rect x="2492" y="775.00" width="62" height="3.00" fill="#D5D5B5"/>
<rect x="2492" y="778.00" width="62" height="1.00" fill="#60FF90"/>
<rect x="2492" y="779.00" width="62" height="9.00" fill="#3F9058"/>
<rect x="2492" y="788.00" width="62" height="18.85" fill="#8ACEBC"/>
<rect x="2561" y="60.00" width="62" height="5.00" fill="#3896B0"/>
<rect x="2561" y="65.00" width="62" height="1.00" fill="#78B8CC"/>
<rect x="2561" y="66.00" width="62" height="2.00" fill="#E0B000"/>
<rect x="2561" y="68.00" width="62" height="2.00" fill="#F5E070"/>
<rect x="2561" y="70.00" width="62" height="4.00" fill="#D0A808"/>
<rect x="2561" y="74.00" width="62" height="36.00" fill="#D6D6D4"/>
<rect x="2561" y="110.00" width="62" height="4.00" fill="#E8A0C8"/>
<rect x="2561" y="114.00" width="62" height="2.00" fill="#DAB40A"/>
<rect x="2561" y="116.00" width="62" height="3.00" fill="#82A890"/>
<rect x="2561" y="119.00" width="62" height="3.00" fill="#9A8A22"/>
<rect x="2561" y="122.00" width="62" height="3.00" fill="#FFE0A8"/>
<rect x="2561" y="125.00" width="62" height="1.00" fill="#C0F8E8"/>
<rect x="2561" y="126.00" width="62" height="1.00" fill="#AA08C8"/>
<rect x="2561" y="127.00" width="62" height="2.00" fill="#B0B040"/>
<rect x="2561" y="129.00" width="62" height="5.00" fill="#CC60C0"/>
<rect x="2561" y="134.00" width="62" height="10.00" fill="#E09AC8"/>
<rect x="2561" y="144.00" width="62" height="1.00" fill="#88C890"/>
<rect x="2561" y="145.00" width="62" height="60.00" fill="#F5DE50"/>
<rect x="2561" y="205.00" width="62" height="1.00" fill="#C0F8E0"/>
<rect x="2561" y="206.00" width="62" height="2.00" fill="#C878B8"/>
<rect x="2561" y="208.00" width="62" height="3.00" fill="#F84058"/>
<rect x="2561" y="211.00" width="62" height="7.00" fill="#F50588"/>
<rect x="2561" y="218.00" width="62" height="2.00" fill="#FF98C8"/>
<rect x="2561" y="220.00" width="62" height="1.00" fill="#FCC038"/>
<rect x="2561" y="221.00" width="62" height="9.00" fill="#2C3AB8"/>
<rect x="2561" y="230.00" width="62" height="1.00" fill="#E0E4F0"/>
<rect x="2561" y="231.00" width="62" height="2.00" fill="#A88868"/>
<rect x="2561" y="233.00" width="62" height="10.00" fill="#561EC0"/>
<rect x="2561" y="243.00" width="62" height="2.00" fill="#FFFFFF"/>
<rect x="2561" y="245.00" width="62" height="3.00" fill="#C060E8"/>
<rect x="2561" y="248.00" width="62" height="7.00" fill="#80B8F0"/>
<rect x="2561" y="255.00" width="62" height="17.00" fill="#BCCA22"/>
<rect x="2561" y="272.00" width="62" height="9.00" fill="#AA22C8"/>
<rect x="2561" y="281.00" width="62" height="2.00" fill="#E0E4F0"/>
<rect x="2561" y="283.00" width="62" height="3.00" fill="#8AE0BC"/>
<rect x="2561" y="286.00" width="62" height="5.00" fill="#F0C030"/>
<rect x="2561" y="291.00" width="62" height="3.00" fill="#E0F0F0"/>
<rect x="2561" y="294.00" width="62" height="2.00" fill="#9060E8"/>
<rect x="2561" y="296.00" width="62" height="7.00" fill="#E0F445"/>
<rect x="2561" y="303.00" width="62" height="1.00" fill="#60D8C0"/>
<rect x="2561" y="304.00" width="62" height="2.00" fill="#C0C860"/>
<rect x="2561" y="306.00" width="62" height="13.00" fill="#FCDC68"/>
<rect x="2561" y="319.00" width="62" height="4.00" fill="#F08058"/>
<rect x="2561" y="323.00" width="62" height="4.00" fill="#7098C0"/>
<rect x="2561" y="327.00" width="62" height="1.00" fill="#C01060"/>
<rect x="2561" y="328.00" width="62" height="287.00" fill="#959AF8"/>
<rect x="2561" y="615.00" width="62" height="1.00" fill="#9DF8C0"/>
<rect x="2561" y="616.00" width="62" height="21.00" fill="#B0F4F4"/>
<rect x="2561" y="637.00" width="62" height="43.00" fill="#CA3EE0"/>
<rect x="2561" y="680.00" width="62" height="3.00" fill="#EA40E8"/>
<rect x="2561" y="683.00" width="62" height="4.00" fill="#6E8858"/>
<rect x="2561" y="687.00" width="62" height="3.00" fill="#A0B8E0"/>
<rect x="2561" y="690.00" width="62" height="2.00" fill="#60A058"/>
<rect x="2561" y="692.00" width="62" height="5.00" fill="#E570C8"/>
<rect x="2561" y="697.00" width="62" height="5.00" fill="#957478"/>
<rect x="2561" y="702.00" width="62" height="9.00" fill="#80B048"/>
<rect x="2561" y="711.00" width="62" height="4.00" fill="#50D048"/>
<rect x="2561" y="715.00" width="62" height="1.00" fill="#EE78D0"/>
<rect x="2561" y="716.00" width="62" height="4.00" fill="#48E8B0"/>
<rect x="2561" y="720.00" width="62" height="46.00" fill="#B3C4E0"/>
<rect x="2561" y="766.00" width="62" height="17.00" fill="#948860"/>
<rect x="2561" y="783.00" width="62" height="1.00" fill="#FC9868"/>
<rect x="2561" y="784.00" width="62" height="8.00" fill="#F898C5"/>
<rect x="2561" y="792.00" width="62" height="5.00" fill="#A49CF0"/>
<rect x="2561" y="797.00" width="62" height="1.00" fill="#70E8D0"/>
<rect x="2561" y="798.00" width="62" height="1.00" fill="#D8A0F0"/>
<rect x="2561" y="799.00" width="62" height="5.00" fill="#3F9058"/>
<rect x="2561" y="804.00" width="62" height="2.85" fill="#8ACEBC"/>
<rect x="2629" y="60.00" width="62" height="7.00" fill="#3896B0"/>
<rect x="2629" y="67.00" width="62" height="31.00" fill="#78B8CC"/>
<rect x="2629" y="98.00" width="62" height="1.00" fill="#E0B000"/>
<rect x="2629" y="99.00" width="62" height="2.00" fill="#D87030"/>
<rect x="2629" y="101.00" width="62" height="6.00" fill="#F5E070"/>
<rect x="2629" y="107.00" width="62" height="2.00" fill="#D0A808"/>
<rect x="2629" y="109.00" width="62" height="3.00" fill="#C87838"/>
<rect x="2629" y="112.00" width="62" height="1.00" fill="#D8C890"/>
<rect x="2629" y="113.00" width="62" height="1.00" fill="#E8A0C8"/>
<rect x="2629" y="114.00" width="62" height="1.00" fill="#7090D8"/>
<rect x="2629" y="115.00" width="62" height="46.00" fill="#DAB40A"/>
<rect x="2629" y="161.00" width="62" height="13.00" fill="#82A890"/>
<rect x="2629" y="174.00" width="62" height="106.00" fill="#9A8A22"/>
<rect x="2629" y="280.00" width="62" height="2.00" fill="#FFE0A8"/>
<rect x="2629" y="282.00" width="62" height="2.00" fill="#485030"/>
<rect x="2629" y="284.00" width="62" height="2.00" fill="#B0F8E8"/>
<rect x="2629" y="286.00" width="62" height="1.00" fill="#AA08C8"/>
<rect x="2629" y="287.00" width="62" height="1.00" fill="#B0B040"/>
<rect x="2629" y="288.00" width="62" height="6.00" fill="#CC60C0"/>
<rect x="2629" y="294.00" width="62" height="1.00" fill="#9DF8C5"/>
<rect x="2629" y="295.00" width="62" height="5.00" fill="#9C9ADD"/>
<rect x="2629" y="300.00" width="62" height="1.00" fill="#F090C8"/>
<rect x="2629" y="301.00" width="62" height="1.00" fill="#E09AC8"/>
<rect x="2629" y="302.00" width="62" height="1.00" fill="#A0C880"/>
<rect x="2629" y="303.00" width="62" height="2.00" fill="#F5DE50"/>
<rect x="2629" y="305.00" width="62" height="1.00" fill="#F8F0B0"/>
<rect x="2629" y="306.00" width="62" height="1.00" fill="#E030D0"/>
<rect x="2629" y="307.00" width="62" height="1.00" fill="#30ECE0"/>
<rect x="2629" y="308.00" width="62" height="2.00" fill="#FF98C8"/>
<rect x="2629" y="310.00" width="62" height="2.00" fill="#B0C0F8"/>
<rect x="2629" y="312.00" width="62" height="1.00" fill="#FCC038"/>
<rect x="2629" y="313.00" width="62" height="3.00" fill="#80A0CC"/>
<rect x="2629" y="316.00" width="62" height="2.00" fill="#2030B8"/>
<rect x="2629" y="318.00" width="62" height="1.00" fill="#A89060"/>
<rect x="2629" y="319.00" width="62" height="1.00" fill="#30C0F0"/>
<rect x="2629" y="320.00" width="62" height="1.00" fill="#561EC0"/>
<rect x="2629" y="321.00" width="62" height="42.00" fill="#FBF6F6"/>
<rect x="2629" y="363.00" width="62" height="6.00" fill="#C060E8"/>
<rect x="2629" y="369.00" width="62" height="6.00" fill="#80B8F0"/>
<rect x="2629" y="375.00" width="62" height="6.00" fill="#8AA8F8"/>
<rect x="2629" y="381.00" width="62" height="1.00" fill="#68C0F8"/>
<rect x="2629" y="382.00" width="62" height="4.00" fill="#F83088"/>
<rect x="2629" y="386.00" width="62" height="2.00" fill="#AA22C8"/>
<rect x="2629" y="388.00" width="62" height="3.00" fill="#68C0F8"/>
<rect x="2629" y="391.00" width="62" height="2.00" fill="#8AE0BC"/>
<rect x="2629" y="393.00" width="62" height="4.00" fill="#F5A090"/>
<rect x="2629" y="397.00" width="62" height="1.00" fill="#E0D8B0"/>
<rect x="2629" y="398.00" width="62" height="5.00" fill="#DCEEEC"/>
<rect x="2629" y="403.00" width="62" height="5.00" fill="#C0F0E0"/>
<rect x="2629" y="408.00" width="62" height="3.00" fill="#9060E8"/>
<rect x="2629" y="411.00" width="62" height="8.00" fill="#E0F445"/>
<rect x="2629" y="419.00" width="62" height="2.00" fill="#C0C860"/>
<rect x="2629" y="421.00" width="62" height="1.00" fill="#9060E8"/>
<rect x="2629" y="422.00" width="62" height="5.00" fill="#F5F5A8"/>
<rect x="2629" y="427.00" width="62" height="4.00" fill="#4CFF78"/>
<rect x="2629" y="431.00" width="62" height="2.00" fill="#7098C0"/>
<rect x="2629" y="433.00" width="62" height="6.00" fill="#C01060"/>
<rect x="2629" y="439.00" width="62" height="98.00" fill="#959AF8"/>
<rect x="2629" y="537.00" width="62" height="89.00" fill="#B0F4F4"/>
<rect x="2629" y="626.00" width="62" height="20.00" fill="#CA3EE0"/>
<rect x="2629" y="646.00" width="62" height="1.00" fill="#40C8E8"/>
<rect x="2629" y="647.00" width="62" height="26.00" fill="#EA40E8"/>
<rect x="2629" y="673.00" width="62" height="1.00" fill="#FFD8B0"/>
<rect x="2629" y="674.00" width="62" height="8.00" fill="#A0B8E0"/>
<rect x="2629" y="682.00" width="62" height="4.00" fill="#D0E8F8"/>
<rect x="2629" y="686.00" width="62" height="2.00" fill="#F0B8D0"/>
<rect x="2629" y="688.00" width="62" height="1.00" fill="#E570C8"/>
<rect x="2629" y="689.00" width="62" height="10.00" fill="#50D048"/>
<rect x="2629" y="699.00" width="62" height="1.00" fill="#F8C0D0"/>
<rect x="2629" y="700.00" width="62" height="3.00" fill="#EE78D0"/>
<rect x="2629" y="703.00" width="62" height="1.00" fill="#E0F0F0"/>
<rect x="2629" y="704.00" width="62" height="10.00" fill="#48E8B0"/>
<rect x="2629" y="714.00" width="62" height="10.00" fill="#B3C4E0"/>
<rect x="2629" y="724.00" width="62" height="1.00" fill="#98FF80"/>
<rect x="2629" y="725.00" width="62" height="12.00" fill="#948860"/>
<rect x="2629" y="737.00" width="62" height="22.00" fill="#8E7868"/>
<rect x="2629" y="759.00" width="62" height="2.00" fill="#FC9868"/>
<rect x="2629" y="761.00" width="62" height="1.00" fill="#F898C5"/>
<rect x="2629" y="762.00" width="62" height="11.00" fill="#A49CF0"/>
<rect x="2629" y="773.00" width="62" height="2.00" fill="#D5D5B5"/>
<rect x="2629" y="775.00" width="62" height="3.00" fill="#D098F8"/>
<rect x="2629" y="778.00" width="62" height="27.00" fill="#3F9058"/>
<rect x="2629" y="805.00" width="62" height="1.85" fill="#8ACEBC"/>
<rect x="2698" y="60.00" width="62" height="5.00" fill="#3896B0"/>
<rect x="2698" y="65.00" width="62" height="23.00" fill="#78B8CC"/>
<rect x="2698" y="88.00" width="62" height="2.00" fill="#E0B000"/>
<rect x="2698" y="90.00" width="62" height="2.00" fill="#FF6070"/>
<rect x="2698" y="92.00" width="62" height="3.00" fill="#D87030"/>
<rect x="2698" y="95.00" width="62" height="4.00" fill="#F5E070"/>
<rect x="2698" y="99.00" width="62" height="9.00" fill="#D0A808"/>
<rect x="2698" y="108.00" width="62" height="5.00" fill="#C87838"/>
<rect x="2698" y="113.00" width="62" height="44.00" fill="#DAB40A"/>
<rect x="2698" y="157.00" width="62" height="11.00" fill="#82A890"/>
<rect x="2698" y="168.00" width="62" height="70.00" fill="#9A8A22"/>
<rect x="2698" y="238.00" width="62" height="4.00" fill="#FFE0A8"/>
<rect x="2698" y="242.00" width="62" height="9.00" fill="#485030"/>
<rect x="2698" y="251.00" width="62" height="2.00" fill="#B0F8E8"/>
<rect x="2698" y="253.00" width="62" height="3.00" fill="#AA08C8"/>
<rect x="2698" y="256.00" width="62" height="4.00" fill="#B0B040"/>
<rect x="2698" y="260.00" width="62" height="7.00" fill="#CC60C0"/>
<rect x="2698" y="267.00" width="62" height="1.00" fill="#9DF8C5"/>
<rect x="2698" y="268.00" width="62" height="8.00" fill="#9C9ADD"/>
<rect x="2698" y="276.00" width="62" height="1.00" fill="#2040F0"/>
<rect x="2698" y="277.00" width="62" height="2.00" fill="#F090C8"/>
<rect x="2698" y="279.00" width="62" height="5.00" fill="#E09AC8"/>
<rect x="2698" y="284.00" width="62" height="2.00" fill="#F5DE50"/>
<rect x="2698" y="286.00" width="62" height="2.00" fill="#E030B0"/>
<rect x="2698" y="288.00" width="62" height="7.00" fill="#F50588"/>
<rect x="2698" y="295.00" width="62" height="2.00" fill="#FF98C8"/>
<rect x="2698" y="297.00" width="62" height="1.00" fill="#FCC038"/>
<rect x="2698" y="298.00" width="62" height="15.00" fill="#EEFF58"/>
<rect x="2698" y="313.00" width="62" height="1.00" fill="#7080D0"/>
<rect x="2698" y="314.00" width="62" height="5.00" fill="#2C3AB8"/>
<rect x="2698" y="319.00" width="62" height="1.00" fill="#561EC0"/>
<rect x="2698" y="320.00" width="62" height="1.00" fill="#FFFFFF"/>
<rect x="2698" y="321.00" width="62" height="30.00" fill="#FBF6F6"/>
<rect x="2698" y="351.00" width="62" height="7.00" fill="#C060E8"/>
<rect x="2698" y="358.00" width="62" height="6.00" fill="#80B8F0"/>
<rect x="2698" y="364.00" width="62" height="9.00" fill="#BCCA22"/>
<rect x="2698" y="373.00" width="62" height="1.00" fill="#F83088"/>
<rect x="2698" y="374.00" width="62" height="9.00" fill="#AA22C8"/>
<rect x="2698" y="383.00" width="62" height="4.00" fill="#68C0F8"/>
<rect x="2698" y="387.00" width="62" height="1.00" fill="#60B8B0"/>
<rect x="2698" y="388.00" width="62" height="4.00" fill="#8AE0BC"/>
<rect x="2698" y="392.00" width="62" height="4.00" fill="#F0C030"/>
<rect x="2698" y="396.00" width="62" height="1.00" fill="#F5A090"/>
<rect x="2698" y="397.00" width="62" height="7.00" fill="#DCEEEC"/>
<rect x="2698" y="404.00" width="62" height="7.00" fill="#E0F445"/>
<rect x="2698" y="411.00" width="62" height="2.00" fill="#C0C860"/>
<rect x="2698" y="413.00" width="62" height="2.00" fill="#FCDC68"/>
<rect x="2698" y="415.00" width="62" height="12.00" fill="#F5F5A8"/>
<rect x="2698" y="427.00" width="62" height="4.00" fill="#4CFF78"/>
<rect x="2698" y="431.00" width="62" height="5.00" fill="#7098C0"/>
<rect x="2698" y="436.00" width="62" height="12.00" fill="#C01060"/>
<rect x="2698" y="448.00" width="62" height="105.00" fill="#959AF8"/>
<rect x="2698" y="553.00" width="62" height="1.00" fill="#9DF8C0"/>
<rect x="2698" y="554.00" width="62" height="53.00" fill="#B0F4F4"/>
<rect x="2698" y="607.00" width="62" height="27.00" fill="#CA3EE0"/>
<rect x="2698" y="634.00" width="62" height="3.00" fill="#40C8E8"/>
<rect x="2698" y="637.00" width="62" height="23.00" fill="#EA40E8"/>
<rect x="2698" y="660.00" width="62" height="2.00" fill="#B0A098"/>
<rect x="2698" y="662.00" width="62" height="5.00" fill="#A0B8E0"/>
<rect x="2698" y="667.00" width="62" height="2.00" fill="#D0E8F8"/>
<rect x="2698" y="669.00" width="62" height="4.00" fill="#F0B8D0"/>
<rect x="2698" y="673.00" width="62" height="5.00" fill="#E570C8"/>
<rect x="2698" y="678.00" width="62" height="21.00" fill="#50D048"/>
<rect x="2698" y="699.00" width="62" height="4.00" fill="#EE78D0"/>
<rect x="2698" y="703.00" width="62" height="3.00" fill="#48E8B0"/>
<rect x="2698" y="706.00" width="62" height="14.00" fill="#B3C4E0"/>
<rect x="2698" y="720.00" width="62" height="2.00" fill="#98FF80"/>
<rect x="2698" y="722.00" width="62" height="14.00" fill="#948860"/>
<rect x="2698" y="736.00" width="62" height="16.00" fill="#8E7868"/>
<rect x="2698" y="752.00" width="62" height="2.00" fill="#F898C5"/>
<rect x="2698" y="754.00" width="62" height="23.00" fill="#A49CF0"/>
<rect x="2698" y="777.00" width="62" height="5.00" fill="#D5D5B5"/>
<rect x="2698" y="782.00" width="62" height="4.00" fill="#D098F8"/>
<rect x="2698" y="786.00" width="62" height="20.85" fill="#3F9058"/>
<rect x="2767" y="60.00" width="62" height="3.00" fill="#3896B0"/>
<rect x="2767" y="63.00" width="62" height="18.00" fill="#78B8CC"/>
<rect x="2767" y="81.00" width="62" height="3.00" fill="#E0B000"/>
<rect x="2767" y="84.00" width="62" height="2.00" fill="#D87030"/>
<rect x="2767" y="86.00" width="62" height="5.00" fill="#F5E070"/>
<rect x="2767" y="91.00" width="62" height="2.00" fill="#D0A808"/>
<rect x="2767" y="93.00" width="62" height="6.00" fill="#D6D6D4"/>
<rect x="2767" y="99.00" width="62" height="1.00" fill="#709080"/>
<rect x="2767" y="100.00" width="62" height="4.00" fill="#C87838"/>
<rect x="2767" y="104.00" width="62" height="1.00" fill="#D8C890"/>
<rect x="2767" y="105.00" width="62" height="1.00" fill="#E8A0C8"/>
<rect x="2767" y="106.00" width="62" height="2.00" fill="#6890E0"/>
<rect x="2767" y="108.00" width="62" height="21.00" fill="#DAB40A"/>
<rect x="2767" y="129.00" width="62" height="21.00" fill="#82A890"/>
<rect x="2767" y="150.00" width="62" height="7.00" fill="#9A8A22"/>
<rect x="2767" y="157.00" width="62" height="5.00" fill="#FFE0A8"/>
<rect x="2767" y="162.00" width="62" height="3.00" fill="#485030"/>
<rect x="2767" y="165.00" width="62" height="3.00" fill="#B0F8E8"/>
<rect x="2767" y="168.00" width="62" height="4.00" fill="#B0B040"/>
<rect x="2767" y="172.00" width="62" height="17.00" fill="#CC60C0"/>
<rect x="2767" y="189.00" width="62" height="2.00" fill="#9DF8C5"/>
<rect x="2767" y="191.00" width="62" height="15.00" fill="#9C9ADD"/>
<rect x="2767" y="206.00" width="62" height="2.00" fill="#F080C8"/>
<rect x="2767" y="208.00" width="62" height="4.00" fill="#E09AC8"/>
<rect x="2767" y="212.00" width="62" height="2.00" fill="#88C890"/>
<rect x="2767" y="214.00" width="62" height="15.00" fill="#F5DE50"/>
<rect x="2767" y="229.00" width="62" height="1.00" fill="#E890C8"/>
<rect x="2767" y="230.00" width="62" height="4.00" fill="#B0D5D5"/>
<rect x="2767" y="234.00" width="62" height="4.00" fill="#F50588"/>
<rect x="2767" y="238.00" width="62" height="2.00" fill="#FF98C8"/>
<rect x="2767" y="240.00" width="62" height="2.00" fill="#FCC038"/>
<rect x="2767" y="242.00" width="62" height="17.00" fill="#EEFF58"/>
<rect x="2767" y="259.00" width="62" height="3.00" fill="#80A0CC"/>
<rect x="2767" y="262.00" width="62" height="2.00" fill="#2C3AB8"/>
<rect x="2767" y="264.00" width="62" height="1.00" fill="#E0E8FF"/>
<rect x="2767" y="265.00" width="62" height="1.00" fill="#30C0F0"/>
<rect x="2767" y="266.00" width="62" height="2.00" fill="#FF90B8"/>
<rect x="2767" y="268.00" width="62" height="2.00" fill="#561EC0"/>
<rect x="2767" y="270.00" width="62" height="1.00" fill="#FFFFFF"/>
<rect x="2767" y="271.00" width="62" height="62.00" fill="#FBF6F6"/>
<rect x="2767" y="333.00" width="62" height="5.00" fill="#C060E8"/>
<rect x="2767" y="338.00" width="62" height="18.00" fill="#80B8F0"/>
<rect x="2767" y="356.00" width="62" height="4.00" fill="#BCCA22"/>
<rect x="2767" y="360.00" width="62" height="7.00" fill="#F83088"/>
<rect x="2767" y="367.00" width="62" height="16.00" fill="#AA22C8"/>
<rect x="2767" y="383.00" width="62" height="3.00" fill="#68C0F8"/>
<rect x="2767" y="386.00" width="62" height="9.00" fill="#780890"/>
<rect x="2767" y="395.00" width="62" height="2.00" fill="#E0E4F0"/>
<rect x="2767" y="397.00" width="62" height="3.00" fill="#8AE0BC"/>
<rect x="2767" y="400.00" width="62" height="2.00" fill="#F0C030"/>
<rect x="2767" y="402.00" width="62" height="1.00" fill="#F5A090"/>
<rect x="2767" y="403.00" width="62" height="2.00" fill="#C8C898"/>
<rect x="2767" y="405.00" width="62" height="12.00" fill="#DCEEEC"/>
<rect x="2767" y="417.00" width="62" height="1.00" fill="#FFD8B0"/>
<rect x="2767" y="418.00" width="62" height="2.00" fill="#C0F0E0"/>
<rect x="2767" y="420.00" width="62" height="2.00" fill="#9060E8"/>
<rect x="2767" y="422.00" width="62" height="10.00" fill="#E0F445"/>
<rect x="2767" y="432.00" width="62" height="1.00" fill="#60D8C0"/>
<rect x="2767" y="433.00" width="62" height="3.00" fill="#C0C860"/>
<rect x="2767" y="436.00" width="62" height="1.00" fill="#F0C030"/>
<rect x="2767" y="437.00" width="62" height="1.00" fill="#9060E8"/>
<rect x="2767" y="438.00" width="62" height="6.00" fill="#F5F5A8"/>
<rect x="2767" y="444.00" width="62" height="10.00" fill="#4CFF78"/>
<rect x="2767" y="454.00" width="62" height="1.00" fill="#F5C0D8"/>
<rect x="2767" y="455.00" width="62" height="2.00" fill="#7098C0"/>
<rect x="2767" y="457.00" width="62" height="13.00" fill="#C01060"/>
<rect x="2767" y="470.00" width="62" height="92.00" fill="#959AF8"/>
<rect x="2767" y="562.00" width="62" height="2.00" fill="#9DF8C0"/>
<rect x="2767" y="564.00" width="62" height="12.00" fill="#B0F4F4"/>
<rect x="2767" y="576.00" width="62" height="45.00" fill="#CA3EE0"/>
<rect x="2767" y="621.00" width="62" height="19.00" fill="#EA40E8"/>
<rect x="2767" y="640.00" width="62" height="3.00" fill="#6E8858"/>
<rect x="2767" y="643.00" width="62" height="11.00" fill="#A0B8E0"/>
<rect x="2767" y="654.00" width="62" height="3.00" fill="#D0E8F8"/>
<rect x="2767" y="657.00" width="62" height="1.00" fill="#F0B8D0"/>
<rect x="2767" y="658.00" width="62" height="3.00" fill="#E570C8"/>
<rect x="2767" y="661.00" width="62" height="1.00" fill="#80B048"/>
<rect x="2767" y="662.00" width="62" height="18.00" fill="#50D048"/>
<rect x="2767" y="680.00" width="62" height="1.00" fill="#F8C0D0"/>
<rect x="2767" y="681.00" width="62" height="2.00" fill="#EE78D0"/>
<rect x="2767" y="683.00" width="62" height="2.00" fill="#F86098"/>
<rect x="2767" y="685.00" width="62" height="10.00" fill="#48E8B0"/>
<rect x="2767" y="695.00" width="62" height="41.00" fill="#B3C4E0"/>
<rect x="2767" y="736.00" width="62" height="1.00" fill="#A84050"/>
<rect x="2767" y="737.00" width="62" height="23.00" fill="#948860"/>
<rect x="2767" y="760.00" width="62" height="4.00" fill="#8E7868"/>
<rect x="2767" y="764.00" width="62" height="5.00" fill="#FC9868"/>
<rect x="2767" y="769.00" width="62" height="7.00" fill="#F898C5"/>
<rect x="2767" y="776.00" width="62" height="14.00" fill="#A49CF0"/>
<rect x="2767" y="790.00" width="62" height="1.00" fill="#70E8D0"/>
<rect x="2767" y="791.00" width="62" height="2.00" fill="#D5D5B5"/>
<rect x="2767" y="793.00" width="62" height="4.00" fill="#D098F8"/>
<rect x="2767" y="797.00" width="62" height="1.00" fill="#B070F0"/>
<rect x="2767" y="798.00" width="62" height="1.00" fill="#60FF90"/>
<rect x="2767" y="799.00" width="62" height="7.85" fill="#3F9058"/>
<rect x="2836" y="60.00" width="62" height="10.00" fill="#3896B0"/>
<rect x="2836" y="70.00" width="62" height="19.00" fill="#78B8CC"/>
<rect x="2836" y="89.00" width="62" height="2.00" fill="#E0B000"/>
<rect x="2836" y="91.00" width="62" height="5.00" fill="#D87030"/>
<rect x="2836" y="96.00" width="62" height="12.00" fill="#F5E070"/>
<rect x="2836" y="108.00" width="62" height="2.00" fill="#D0A808"/>
<rect x="2836" y="110.00" width="62" height="4.00" fill="#D6D6D4"/>
<rect x="2836" y="114.00" width="62" height="4.00" fill="#C87838"/>
<rect x="2836" y="118.00" width="62" height="2.00" fill="#D0C890"/>
<rect x="2836" y="120.00" width="62" height="1.00" fill="#E8A0C8"/>
<rect x="2836" y="121.00" width="62" height="3.00" fill="#7090D8"/>
<rect x="2836" y="124.00" width="62" height="31.00" fill="#DAB40A"/>
<rect x="2836" y="155.00" width="62" height="39.00" fill="#82A890"/>
<rect x="2836" y="194.00" width="62" height="10.00" fill="#9A8A22"/>
<rect x="2836" y="204.00" width="62" height="2.00" fill="#F8D0C0"/>
<rect x="2836" y="206.00" width="62" height="9.00" fill="#FFE0A8"/>
<rect x="2836" y="215.00" width="62" height="4.00" fill="#485030"/>
<rect x="2836" y="219.00" width="62" height="5.00" fill="#B0F8E8"/>
<rect x="2836" y="224.00" width="62" height="2.00" fill="#AA08C8"/>
<rect x="2836" y="226.00" width="62" height="9.00" fill="#B0B040"/>
<rect x="2836" y="235.00" width="62" height="16.00" fill="#CC60C0"/>
<rect x="2836" y="251.00" width="62" height="3.00" fill="#9DF8C5"/>
<rect x="2836" y="254.00" width="62" height="15.00" fill="#9C9ADD"/>
<rect x="2836" y="269.00" width="62" height="4.00" fill="#E878D0"/>
<rect x="2836" y="273.00" width="62" height="3.00" fill="#88C890"/>
<rect x="2836" y="276.00" width="62" height="6.00" fill="#F5DE50"/>
<rect x="2836" y="282.00" width="62" height="2.00" fill="#80F8C8"/>
<rect x="2836" y="284.00" width="62" height="2.00" fill="#B0D5D5"/>
<rect x="2836" y="286.00" width="62" height="1.00" fill="#FCC038"/>
<rect x="2836" y="287.00" width="62" height="1.00" fill="#E030D0"/>
<rect x="2836" y="288.00" width="62" height="3.00" fill="#F50588"/>
<rect x="2836" y="291.00" width="62" height="2.00" fill="#FF98C8"/>
<rect x="2836" y="293.00" width="62" height="2.00" fill="#B0C0F8"/>
<rect x="2836" y="295.00" width="62" height="1.00" fill="#FCC038"/>
<rect x="2836" y="296.00" width="62" height="7.00" fill="#EEFF58"/>
<rect x="2836" y="303.00" width="62" height="4.00" fill="#80A0CC"/>
<rect x="2836" y="307.00" width="62" height="2.00" fill="#2030B8"/>
<rect x="2836" y="309.00" width="62" height="2.00" fill="#B09060"/>
<rect x="2836" y="311.00" width="62" height="1.00" fill="#561EC0"/>
<rect x="2836" y="312.00" width="62" height="108.00" fill="#FBF6F6"/>
<rect x="2836" y="420.00" width="62" height="5.00" fill="#C060E8"/>
<rect x="2836" y="425.00" width="62" height="12.00" fill="#80B8F0"/>
<rect x="2836" y="437.00" width="62" height="3.00" fill="#8AA8F8"/>
<rect x="2836" y="440.00" width="62" height="2.00" fill="#60C0E0"/>
<rect x="2836" y="442.00" width="62" height="2.00" fill="#BCCA22"/>
<rect x="2836" y="444.00" width="62" height="4.00" fill="#F83088"/>
<rect x="2836" y="448.00" width="62" height="7.00" fill="#AA22C8"/>
<rect x="2836" y="455.00" width="62" height="5.00" fill="#68C0F8"/>
<rect x="2836" y="460.00" width="62" height="2.00" fill="#780890"/>
<rect x="2836" y="462.00" width="62" height="3.00" fill="#E0E4F0"/>
<rect x="2836" y="465.00" width="62" height="1.00" fill="#8AE0BC"/>
<rect x="2836" y="466.00" width="62" height="1.00" fill="#A87888"/>
<rect x="2836" y="467.00" width="62" height="1.00" fill="#F0C030"/>
<rect x="2836" y="468.00" width="62" height="2.00" fill="#F5A090"/>
<rect x="2836" y="470.00" width="62" height="2.00" fill="#C8C898"/>
<rect x="2836" y="472.00" width="62" height="1.00" fill="#886080"/>
<rect x="2836" y="473.00" width="62" height="17.00" fill="#DCEEEC"/>
<rect x="2836" y="490.00" width="62" height="1.00" fill="#FFD8B0"/>
<rect x="2836" y="491.00" width="62" height="2.00" fill="#C0F0E0"/>
<rect x="2836" y="493.00" width="62" height="1.00" fill="#9060E8"/>
<rect x="2836" y="494.00" width="62" height="5.00" fill="#E0F445"/>
<rect x="2836" y="499.00" width="62" height="2.00" fill="#C0C860"/>
<rect x="2836" y="501.00" width="62" height="1.00" fill="#FCDC68"/>
<rect x="2836" y="502.00" width="62" height="2.00" fill="#9060E8"/>
<rect x="2836" y="504.00" width="62" height="5.00" fill="#F5F5A8"/>
<rect x="2836" y="509.00" width="62" height="10.00" fill="#4CFF78"/>
<rect x="2836" y="519.00" width="62" height="4.00" fill="#7098C0"/>
<rect x="2836" y="523.00" width="62" height="16.00" fill="#C01060"/>
<rect x="2836" y="539.00" width="62" height="47.00" fill="#959AF8"/>
<rect x="2836" y="586.00" width="62" height="3.00" fill="#9DF8C0"/>
<rect x="2836" y="589.00" width="62" height="1.00" fill="#F5C0D8"/>
<rect x="2836" y="590.00" width="62" height="7.00" fill="#B0F4F4"/>
<rect x="2836" y="597.00" width="62" height="26.00" fill="#CA3EE0"/>
<rect x="2836" y="623.00" width="62" height="1.00" fill="#40C8E8"/>
<rect x="2836" y="624.00" width="62" height="19.00" fill="#EA40E8"/>
<rect x="2836" y="643.00" width="62" height="1.00" fill="#FFD8B0"/>
<rect x="2836" y="644.00" width="62" height="1.00" fill="#6E8858"/>
<rect x="2836" y="645.00" width="62" height="7.00" fill="#A0B8E0"/>
<rect x="2836" y="652.00" width="62" height="1.00" fill="#A8E8E0"/>
<rect x="2836" y="653.00" width="62" height="7.00" fill="#D0E8F8"/>
<rect x="2836" y="660.00" width="62" height="1.00" fill="#F0B8D0"/>
<rect x="2836" y="661.00" width="62" height="3.00" fill="#E570C8"/>
<rect x="2836" y="664.00" width="62" height="1.00" fill="#80B048"/>
<rect x="2836" y="665.00" width="62" height="18.00" fill="#50D048"/>
<rect x="2836" y="683.00" width="62" height="1.00" fill="#F8C0D0"/>
<rect x="2836" y="684.00" width="62" height="5.00" fill="#EE78D0"/>
<rect x="2836" y="689.00" width="62" height="5.00" fill="#48E8B0"/>
<rect x="2836" y="694.00" width="62" height="27.00" fill="#B3C4E0"/>
<rect x="2836" y="721.00" width="62" height="1.00" fill="#A84050"/>
<rect x="2836" y="722.00" width="62" height="2.00" fill="#98FF80"/>
<rect x="2836" y="724.00" width="62" height="25.00" fill="#948860"/>
<rect x="2836" y="749.00" width="62" height="9.00" fill="#8E7868"/>
<rect x="2836" y="758.00" width="62" height="9.00" fill="#FC9868"/>
<rect x="2836" y="767.00" width="62" height="1.00" fill="#F898C5"/>
<rect x="2836" y="768.00" width="62" height="21.00" fill="#A49CF0"/>
<rect x="2836" y="789.00" width="62" height="1.00" fill="#70E0B0"/>
<rect x="2836" y="790.00" width="62" height="6.00" fill="#D098F8"/>
<rect x="2836" y="796.00" width="62" height="10.85" fill="#3F9058"/>
<rect x="2905" y="60.00" width="62" height="2.00" fill="#ECC820"/>
<rect x="2905" y="62.00" width="62" height="2.00" fill="#D8A800"/>
<rect x="2905" y="64.00" width="62" height="33.00" fill="#D6D6D4"/>
<rect x="2905" y="97.00" width="62" height="5.00" fill="#E8A0C8"/>
<rect x="2905" y="102.00" width="62" height="2.00" fill="#6890E0"/>
<rect x="2905" y="104.00" width="62" height="12.00" fill="#DAB40A"/>
<rect x="2905" y="116.00" width="62" height="3.00" fill="#82A890"/>
<rect x="2905" y="119.00" width="62" height="5.00" fill="#9A8A22"/>
<rect x="2905" y="124.00" width="62" height="3.00" fill="#B0F8E0"/>
<rect x="2905" y="127.00" width="62" height="2.00" fill="#A090E8"/>
<rect x="2905" y="129.00" width="62" height="1.00" fill="#C0F8E0"/>
<rect x="2905" y="130.00" width="62" height="22.00" fill="#E09AC8"/>
<rect x="2905" y="152.00" width="62" height="70.00" fill="#F5DE50"/>
<rect x="2905" y="222.00" width="62" height="5.00" fill="#C878B8"/>
<rect x="2905" y="227.00" width="62" height="1.00" fill="#E8A0D8"/>
<rect x="2905" y="228.00" width="62" height="8.00" fill="#F50588"/>
<rect x="2905" y="236.00" width="62" height="2.00" fill="#FCC038"/>
<rect x="2905" y="238.00" width="62" height="40.00" fill="#EEFF58"/>
<rect x="2905" y="278.00" width="62" height="24.00" fill="#2C3AB8"/>
<rect x="2905" y="302.00" width="62" height="1.00" fill="#FF90B8"/>
<rect x="2905" y="303.00" width="62" height="7.00" fill="#561EC0"/>
<rect x="2905" y="310.00" width="62" height="2.00" fill="#FFFFFF"/>
<rect x="2905" y="312.00" width="62" height="1.00" fill="#80B0F0"/>
<rect x="2905" y="313.00" width="62" height="42.00" fill="#BCCA22"/>
<rect x="2905" y="355.00" width="62" height="2.00" fill="#F83088"/>
<rect x="2905" y="357.00" width="62" height="11.00" fill="#AA22C8"/>
<rect x="2905" y="368.00" width="62" height="3.00" fill="#E0E4F0"/>
<rect x="2905" y="371.00" width="62" height="1.00" fill="#8AE0BC"/>
<rect x="2905" y="372.00" width="62" height="1.00" fill="#A87888"/>
<rect x="2905" y="373.00" width="62" height="3.00" fill="#F0C030"/>
<rect x="2905" y="376.00" width="62" height="2.00" fill="#E0F0F0"/>
<rect x="2905" y="378.00" width="62" height="2.00" fill="#C0F0E0"/>
<rect x="2905" y="380.00" width="62" height="2.00" fill="#9060E8"/>
<rect x="2905" y="382.00" width="62" height="15.00" fill="#FCDC68"/>
<rect x="2905" y="397.00" width="62" height="2.00" fill="#FAFAB0"/>
<rect x="2905" y="399.00" width="62" height="1.00" fill="#7098C0"/>
<rect x="2905" y="400.00" width="62" height="6.00" fill="#C01060"/>
<rect x="2905" y="406.00" width="62" height="265.00" fill="#959AF8"/>
<rect x="2905" y="671.00" width="62" height="13.00" fill="#9DF8C0"/>
<rect x="2905" y="684.00" width="62" height="11.00" fill="#B0F4F4"/>
<rect x="2905" y="695.00" width="62" height="24.00" fill="#CA3EE0"/>
<rect x="2905" y="719.00" width="62" height="8.00" fill="#EA40E8"/>
<rect x="2905" y="727.00" width="62" height="7.00" fill="#6E8858"/>
<rect x="2905" y="734.00" width="62" height="4.00" fill="#A0B8E0"/>
<rect x="2905" y="738.00" width="62" height="7.00" fill="#65A560"/>
<rect x="2905" y="745.00" width="62" height="2.00" fill="#D0E8F8"/>
<rect x="2905" y="747.00" width="62" height="15.00" fill="#E570C8"/>
<rect x="2905" y="762.00" width="62" height="1.00" fill="#A06880"/>
<rect x="2905" y="763.00" width="62" height="2.00" fill="#80B048"/>
<rect x="2905" y="765.00" width="62" height="1.00" fill="#50D048"/>
<rect x="2905" y="766.00" width="62" height="2.00" fill="#F0B8D0"/>
<rect x="2905" y="768.00" width="62" height="19.00" fill="#B3C4E0"/>
<rect x="2905" y="787.00" width="62" height="9.00" fill="#948860"/>
<rect x="2905" y="796.00" width="62" height="1.00" fill="#FC9868"/>
<rect x="2905" y="797.00" width="62" height="6.00" fill="#F898C5"/>
<rect x="2905" y="803.00" width="62" height="3.85" fill="#3F9058"/>
</g>
<g shape-rendering="crispEdges">
<rect x="150" y="1003.10" width="62" height="186.70" fill="#555C55"/>
<rect x="218" y="1003.10" width="62" height="186.70" fill="#555C55"/>
<rect x="287" y="1003.10" width="62" height="186.70" fill="#555C55"/>
<rect x="356" y="1003.10" width="62" height="186.70" fill="#555C55"/>
<rect x="425" y="1003.10" width="62" height="186.70" fill="#555C55"/>
<rect x="494" y="1003.10" width="62" height="186.70" fill="#555C55"/>
<rect x="563" y="1003.10" width="62" height="186.70" fill="#555C55"/>
<rect x="632" y="1003.10" width="62" height="186.70" fill="#555C55"/>
<rect x="701" y="1003.10" width="62" height="186.70" fill="#555C55"/>
<rect x="770" y="1003.10" width="62" height="186.70" fill="#555C55"/>
<rect x="838" y="1003.10" width="62" height="186.70" fill="#555C55"/>
<rect x="907" y="1003.10" width="62" height="186.70" fill="#555C55"/>
<rect x="976" y="1003.10" width="62" height="186.70" fill="#555C55"/>
<rect x="1045" y="1003.10" width="62" height="186.70" fill="#555C55"/>
<rect x="1114" y="1003.10" width="62" height="186.70" fill="#555C55"/>
<rect x="1183" y="1003.10" width="62" height="186.70" fill="#555C55"/>
<rect x="1252" y="1003.10" width="62" height="186.70" fill="#555C55"/>
<rect x="1321" y="1003.10" width="62" height="186.70" fill="#555C55"/>
<rect x="1389" y="1003.10" width="62" height="186.70" fill="#555C55"/>
<rect x="1458" y="1003.10" width="62" height="186.70" fill="#555C55"/>
<rect x="1527" y="1003.10" width="62" height="186.70" fill="#555C55"/>
<rect x="1596" y="1003.10" width="62" height="186.70" fill="#555C55"/>
<rect x="1665" y="1003.10" width="62" height="186.70" fill="#555C55"/>
<rect x="1734" y="1003.10" width="62" height="169.80" fill="#236B10"/>
<rect x="1734" y="1172.90" width="62" height="16.90" fill="#E2E6E1"/>
<rect x="1803" y="1003.10" width="62" height="169.80" fill="#236B10"/>
<rect x="1803" y="1172.90" width="62" height="16.90" fill="#E2E6E1"/>
<rect x="1872" y="1003.10" width="62" height="164.80" fill="#236B10"/>
<rect x="1872" y="1167.90" width="62" height="21.90" fill="#E2E6E1"/>
<rect x="1941" y="1003.10" width="62" height="147.60" fill="#979B95"/>
<rect x="1941" y="1150.70" width="62" height="34.10" fill="#236B10"/>
<rect x="1941" y="1184.80" width="62" height="5.00" fill="#E2E6E1"/>
<rect x="2009" y="1003.10" width="62" height="19.70" fill="#979B95"/>
<rect x="2009" y="1022.80" width="62" height="137.00" fill="#236B10"/>
<rect x="2009" y="1159.80" width="62" height="30.00" fill="#E2E6E1"/>
<rect x="2078" y="1003.10" width="62" height="5.60" fill="#979B95"/>
<rect x="2078" y="1008.70" width="62" height="154.10" fill="#236B10"/>
<rect x="2078" y="1162.80" width="62" height="27.00" fill="#E2E6E1"/>
<rect x="2147" y="1003.10" width="62" height="169.80" fill="#236B10"/>
<rect x="2147" y="1172.90" width="62" height="16.90" fill="#E2E6E1"/>
<rect x="2216" y="1003.10" width="62" height="184.70" fill="#236B10"/>
<rect x="2216" y="1187.80" width="62" height="2.00" fill="#E2E6E1"/>
<rect x="2285" y="1003.10" width="62" height="109.80" fill="#979B95"/>
<rect x="2285" y="1112.90" width="62" height="19.90" fill="#236B10"/>
<rect x="2285" y="1132.80" width="62" height="57.00" fill="#E2E6E1"/>
<rect x="2354" y="1003.10" width="62" height="172.90" fill="#979B95"/>
<rect x="2354" y="1176.00" width="62" height="8.80" fill="#236B10"/>
<rect x="2354" y="1184.80" width="62" height="5.00" fill="#E2E6E1"/>
<rect x="2423" y="1003.10" width="62" height="106.80" fill="#979B95"/>
<rect x="2423" y="1109.90" width="62" height="69.90" fill="#236B10"/>
<rect x="2423" y="1179.80" width="62" height="10.00" fill="#E2E6E1"/>
<rect x="2492" y="1003.10" width="62" height="169.80" fill="#979B95"/>
<rect x="2492" y="1172.90" width="62" height="11.90" fill="#236B10"/>
<rect x="2492" y="1184.80" width="62" height="5.00" fill="#E2E6E1"/>
<rect x="2561" y="1003.10" width="62" height="98.70" fill="#979B95"/>
<rect x="2561" y="1101.80" width="62" height="72.20" fill="#236B10"/>
<rect x="2561" y="1174.00" width="62" height="15.80" fill="#E2E6E1"/>
<rect x="2629" y="1003.10" width="62" height="55.80" fill="#979B95"/>
<rect x="2629" y="1058.90" width="62" height="44.90" fill="#236B10"/>
<rect x="2629" y="1103.80" width="62" height="86.00" fill="#E2E6E1"/>
<rect x="2698" y="1003.10" width="62" height="19.70" fill="#979B95"/>
<rect x="2698" y="1022.80" width="62" height="133.00" fill="#236B10"/>
<rect x="2698" y="1155.80" width="62" height="1.00" fill="#5BBF41"/>
<rect x="2698" y="1156.80" width="62" height="33.00" fill="#E2E6E1"/>
<rect x="2767" y="1003.10" width="62" height="0.80" fill="#979B95"/>
<rect x="2767" y="1003.90" width="62" height="118.80" fill="#236B10"/>
<rect x="2767" y="1122.70" width="62" height="9.10" fill="#5BBF41"/>
<rect x="2767" y="1131.80" width="62" height="58.00" fill="#E2E6E1"/>
<rect x="2836" y="1003.10" width="62" height="0.50" fill="#6A6A70"/>
<rect x="2836" y="1003.60" width="62" height="125.20" fill="#979B95"/>
<rect x="2836" y="1128.80" width="62" height="29.00" fill="#236B10"/>
<rect x="2836" y="1157.80" width="62" height="4.00" fill="#5BBF41"/>
<rect x="2836" y="1161.80" width="62" height="28.00" fill="#E2E6E1"/>
<rect x="2905" y="1003.10" width="62" height="2.00" fill="#7A7484"/>
<rect x="2905" y="1005.10" width="62" height="169.90" fill="#236B10"/>
<rect x="2905" y="1175.00" width="62" height="2.00" fill="#5BBF41"/>
<rect x="2905" y="1177.00" width="62" height="12.80" fill="#E2E6E1"/>
</g>
<g fill="#333333">
<rect x="127.8" y="57.75" width="11.4" height="4.5"/>
<rect x="127.8" y="1000.85" width="11.4" height="4.5"/>
<rect x="127.8" y="244.46" width="11.4" height="4.5"/>
<rect x="127.8" y="1047.53" width="11.4" height="4.5"/>
<rect x="127.8" y="431.18" width="11.4" height="4.5"/>
<rect x="127.8" y="1094.20" width="11.4" height="4.5"/>
<rect x="127.8" y="617.89" width="11.4" height="4.5"/>
<rect x="127.8" y="1140.88" width="11.4" height="4.5"/>
<rect x="127.8" y="804.60" width="11.4" height="4.5"/>
<rect x="127.8" y="1187.55" width="11.4" height="4.5"/>
<rect x="178.32" y="844.2" width="4.5" height="11.4"/>
<rect x="178.32" y="1199.1" width="4.5" height="11.5"/>
<rect x="247.20" y="844.2" width="4.5" height="11.4"/>
<rect x="247.20" y="1199.1" width="4.5" height="11.5"/>
<rect x="316.09" y="844.2" width="4.5" height="11.4"/>
<rect x="316.09" y="1199.1" width="4.5" height="11.5"/>
<rect x="384.97" y="844.2" width="4.5" height="11.4"/>
<rect x="384.97" y="1199.1" width="4.5" height="11.5"/>
<rect x="453.86" y="844.2" width="4.5" height="11.4"/>
<rect x="453.86" y="1199.1" width="4.5" height="11.5"/>
<rect x="522.74" y="844.2" width="4.5" height="11.4"/>
<rect x="522.74" y="1199.1" width="4.5" height="11.5"/>
<rect x="591.63" y="844.2" width="4.5" height="11.4"/>
<rect x="591.63" y="1199.1" width="4.5" height="11.5"/>
<rect x="660.51" y="844.2" width="4.5" height="11.4"/>
<rect x="660.51" y="1199.1" width="4.5" height="11.5"/>
<rect x="729.39" y="844.2" width="4.5" height="11.4"/>
<rect x="729.39" y="1199.1" width="4.5" height="11.5"/>
<rect x="798.28" y="844.2" width="4.5" height="11.4"/>
<rect x="798.28" y="1199.1" width="4.5" height="11.5"/>
<rect x="867.16" y="844.2" width="4.5" height="11.4"/>
<rect x="867.16" y="1199.1" width="4.5" height="11.5"/>
<rect x="936.05" y="844.2" width="4.5" height="11.4"/>
<rect x="936.05" y="1199.1" width="4.5" height="11.5"/>
<rect x="1004.93" y="844.2" width="4.5" height="11.4"/>
<rect x="1004.93" y="1199.1" width="4.5" height="11.5"/>
<rect x="1073.81" y="844.2" width="4.5" height="11.4"/>
<rect x="1073.81" y="1199.1" width="4.5" height="11.5"/>
<rect x="1142.70" y="844.2" width="4.5" height="11.4"/>
<rect x="1142.70" y="1199.1" width="4.5" height="11.5"/>
<rect x="1211.58" y="844.2" width="4.5" height="11.4"/>
<rect x="1211.58" y="1199.1" width="4.5" height="11.5"/>
<rect x="1280.47" y="844.2" width="4.5" height="11.4"/>
<rect x="1280.47" y="1199.1" width="4.5" height="11.5"/>
<rect x="1349.35" y="844.2" width="4.5" height="11.4"/>
<rect x="1349.35" y="1199.1" width="4.5" height="11.5"/>
<rect x="1418.24" y="844.2" width="4.5" height="11.4"/>
<rect x="1418.24" y="1199.1" width="4.5" height="11.5"/>
<rect x="1487.12" y="844.2" width="4.5" height="11.4"/>
<rect x="1487.12" y="1199.1" width="4.5" height="11.5"/>
<rect x="1556.00" y="844.2" width="4.5" height="11.4"/>
<rect x="1556.00" y="1199.1" width="4.5" height="11.5"/>
<rect x="1624.89" y="844.2" width="4.5" height="11.4"/>
<rect x="1624.89" y="1199.1" width="4.5" height="11.5"/>
<rect x="1693.77" y="844.2" width="4.5" height="11.4"/>
<rect x="1693.77" y="1199.1" width="4.5" height="11.5"/>
<rect x="1762.66" y="844.2" width="4.5" height="11.4"/>
<rect x="1762.66" y="1199.1" width="4.5" height="11.5"/>
<rect x="1831.54" y="844.2" width="4.5" height="11.4"/>
<rect x="1831.54" y="1199.1" width="4.5" height="11.5"/>
<rect x="1900.43" y="844.2" width="4.5" height="11.4"/>
<rect x="1900.43" y="1199.1" width="4.5" height="11.5"/>
<rect x="1969.31" y="844.2" width="4.5" height="11.4"/>
<rect x="1969.31" y="1199.1" width="4.5" height="11.5"/>
<rect x="2038.19" y="844.2" width="4.5" height="11.4"/>
<rect x="2038.19" y="1199.1" width="4.5" height="11.5"/>
<rect x="2107.08" y="844.2" width="4.5" height="11.4"/>
<rect x="2107.08" y="1199.1" width="4.5" height="11.5"/>
<rect x="2175.96" y="844.2" width="4.5" height="11.4"/>
<rect x="2175.96" y="1199.1" width="4.5" height="11.5"/>
<rect x="2244.85" y="844.2" width="4.5" height="11.4"/>
<rect x="2244.85" y="1199.1" width="4.5" height="11.5"/>
<rect x="2313.73" y="844.2" width="4.5" height="11.4"/>
<rect x="2313.73" y="1199.1" width="4.5" height="11.5"/>
<rect x="2382.61" y="844.2" width="4.5" height="11.4"/>
<rect x="2382.61" y="1199.1" width="4.5" height="11.5"/>
<rect x="2451.50" y="844.2" width="4.5" height="11.4"/>
<rect x="2451.50" y="1199.1" width="4.5" height="11.5"/>
<rect x="2520.38" y="844.2" width="4.5" height="11.4"/>
<rect x="2520.38" y="1199.1" width="4.5" height="11.5"/>
<rect x="2589.27" y="844.2" width="4.5" height="11.4"/>
<rect x="2589.27" y="1199.1" width="4.5" height="11.5"/>
<rect x="2658.15" y="844.2" width="4.5" height="11.4"/>
<rect x="2658.15" y="1199.1" width="4.5" height="11.5"/>
<rect x="2727.04" y="844.2" width="4.5" height="11.4"/>
<rect x="2727.04" y="1199.1" width="4.5" height="11.5"/>
<rect x="2795.92" y="844.2" width="4.5" height="11.4"/>
<rect x="2795.92" y="1199.1" width="4.5" height="11.5"/>
<rect x="2864.80" y="844.2" width="4.5" height="11.4"/>
<rect x="2864.80" y="1199.1" width="4.5" height="11.5"/>
<rect x="2933.69" y="844.2" width="4.5" height="11.4"/>
<rect x="2933.69" y="1199.1" width="4.5" height="11.5"/>
</g>
<g class="ax" text-anchor="end">
<text x="117.4" y="73.2">100<tspan textLength="30.4" lengthAdjust="spacingAndGlyphs">%</tspan></text>
<text x="117.4" y="1016.3">100<tspan textLength="30.4" lengthAdjust="spacingAndGlyphs">%</tspan></text>
<text x="117.4" y="259.9">75<tspan textLength="30.4" lengthAdjust="spacingAndGlyphs">%</tspan></text>
<text x="117.4" y="1063.0">75<tspan textLength="30.4" lengthAdjust="spacingAndGlyphs">%</tspan></text>
<text x="117.4" y="446.6">50<tspan textLength="30.4" lengthAdjust="spacingAndGlyphs">%</tspan></text>
<text x="117.4" y="1109.7">50<tspan textLength="30.4" lengthAdjust="spacingAndGlyphs">%</tspan></text>
<text x="117.4" y="633.3">25<tspan textLength="30.4" lengthAdjust="spacingAndGlyphs">%</tspan></text>
<text x="117.4" y="1156.3">25<tspan textLength="30.4" lengthAdjust="spacingAndGlyphs">%</tspan></text>
<text x="117.4" y="820.1">0<tspan textLength="30.4" lengthAdjust="spacingAndGlyphs">%</tspan></text>
<text x="117.4" y="1203.0">0<tspan textLength="30.4" lengthAdjust="spacingAndGlyphs">%</tspan></text>
</g>
<g class="ax" text-anchor="end">
<text transform="translate(206.7,864) rotate(-90)" textLength="84.7" lengthAdjust="spacing">1984</text>
<text transform="translate(206.7,1219.3) rotate(-90)" textLength="84.7" lengthAdjust="spacing">1984</text>
<text transform="translate(275.6,864) rotate(-90)" textLength="84.7" lengthAdjust="spacing">1985</text>
<text transform="translate(275.6,1219.3) rotate(-90)" textLength="84.7" lengthAdjust="spacing">1985</text>
<text transform="translate(344.4,864) rotate(-90)" textLength="84.7" lengthAdjust="spacing">1986</text>
<text transform="translate(344.4,1219.3) rotate(-90)" textLength="84.7" lengthAdjust="spacing">1986</text>
<text transform="translate(413.3,864) rotate(-90)" textLength="84.7" lengthAdjust="spacing">1987</text>
<text transform="translate(413.3,1219.3) rotate(-90)" textLength="84.7" lengthAdjust="spacing">1987</text>
<text transform="translate(482.2,864) rotate(-90)" textLength="84.7" lengthAdjust="spacing">1988</text>
<text transform="translate(482.2,1219.3) rotate(-90)" textLength="84.7" lengthAdjust="spacing">1988</text>
<text transform="translate(551.1,864) rotate(-90)" textLength="84.7" lengthAdjust="spacing">1989</text>
<text transform="translate(551.1,1219.3) rotate(-90)" textLength="84.7" lengthAdjust="spacing">1989</text>
<text transform="translate(620.0,864) rotate(-90)" textLength="84.7" lengthAdjust="spacing">1990</text>
<text transform="translate(620.0,1219.3) rotate(-90)" textLength="84.7" lengthAdjust="spacing">1990</text>
<text transform="translate(688.9,864) rotate(-90)" textLength="84.7" lengthAdjust="spacing">1991</text>
<text transform="translate(688.9,1219.3) rotate(-90)" textLength="84.7" lengthAdjust="spacing">1991</text>
<text transform="translate(757.7,864) rotate(-90)" textLength="84.7" lengthAdjust="spacing">1992</text>
<text transform="translate(757.7,1219.3) rotate(-90)" textLength="84.7" lengthAdjust="spacing">1992</text>
<text transform="translate(826.6,864) rotate(-90)" textLength="84.7" lengthAdjust="spacing">1993</text>
<text transform="translate(826.6,1219.3) rotate(-90)" textLength="84.7" lengthAdjust="spacing">1993</text>
<text transform="translate(895.5,864) rotate(-90)" textLength="84.7" lengthAdjust="spacing">1994</text>
<text transform="translate(895.5,1219.3) rotate(-90)" textLength="84.7" lengthAdjust="spacing">1994</text>
<text transform="translate(964.4,864) rotate(-90)" textLength="84.7" lengthAdjust="spacing">1995</text>
<text transform="translate(964.4,1219.3) rotate(-90)" textLength="84.7" lengthAdjust="spacing">1995</text>
<text transform="translate(1033.3,864) rotate(-90)" textLength="84.7" lengthAdjust="spacing">1996</text>
<text transform="translate(1033.3,1219.3) rotate(-90)" textLength="84.7" lengthAdjust="spacing">1996</text>
<text transform="translate(1102.2,864) rotate(-90)" textLength="84.7" lengthAdjust="spacing">1997</text>
<text transform="translate(1102.2,1219.3) rotate(-90)" textLength="84.7" lengthAdjust="spacing">1997</text>
<text transform="translate(1171.0,864) rotate(-90)" textLength="84.7" lengthAdjust="spacing">1998</text>
<text transform="translate(1171.0,1219.3) rotate(-90)" textLength="84.7" lengthAdjust="spacing">1998</text>
<text transform="translate(1239.9,864) rotate(-90)" textLength="84.7" lengthAdjust="spacing">1999</text>
<text transform="translate(1239.9,1219.3) rotate(-90)" textLength="84.7" lengthAdjust="spacing">1999</text>
<text transform="translate(1308.8,864) rotate(-90)" textLength="84.7" lengthAdjust="spacing">2000</text>
<text transform="translate(1308.8,1219.3) rotate(-90)" textLength="84.7" lengthAdjust="spacing">2000</text>
<text transform="translate(1377.7,864) rotate(-90)" textLength="84.7" lengthAdjust="spacing">2001</text>
<text transform="translate(1377.7,1219.3) rotate(-90)" textLength="84.7" lengthAdjust="spacing">2001</text>
<text transform="translate(1446.6,864) rotate(-90)" textLength="84.7" lengthAdjust="spacing">2002</text>
<text transform="translate(1446.6,1219.3) rotate(-90)" textLength="84.7" lengthAdjust="spacing">2002</text>
<text transform="translate(1515.5,864) rotate(-90)" textLength="84.7" lengthAdjust="spacing">2003</text>
<text transform="translate(1515.5,1219.3) rotate(-90)" textLength="84.7" lengthAdjust="spacing">2003</text>
<text transform="translate(1584.4,864) rotate(-90)" textLength="84.7" lengthAdjust="spacing">2004</text>
<text transform="translate(1584.4,1219.3) rotate(-90)" textLength="84.7" lengthAdjust="spacing">2004</text>
<text transform="translate(1653.2,864) rotate(-90)" textLength="84.7" lengthAdjust="spacing">2005</text>
<text transform="translate(1653.2,1219.3) rotate(-90)" textLength="84.7" lengthAdjust="spacing">2005</text>
<text transform="translate(1722.1,864) rotate(-90)" textLength="84.7" lengthAdjust="spacing">2006</text>
<text transform="translate(1722.1,1219.3) rotate(-90)" textLength="84.7" lengthAdjust="spacing">2006</text>
<text transform="translate(1791.0,864) rotate(-90)" textLength="84.7" lengthAdjust="spacing">2007</text>
<text transform="translate(1791.0,1219.3) rotate(-90)" textLength="84.7" lengthAdjust="spacing">2007</text>
<text transform="translate(1859.9,864) rotate(-90)" textLength="84.7" lengthAdjust="spacing">2008</text>
<text transform="translate(1859.9,1219.3) rotate(-90)" textLength="84.7" lengthAdjust="spacing">2008</text>
<text transform="translate(1928.8,864) rotate(-90)" textLength="84.7" lengthAdjust="spacing">2009</text>
<text transform="translate(1928.8,1219.3) rotate(-90)" textLength="84.7" lengthAdjust="spacing">2009</text>
<text transform="translate(1997.7,864) rotate(-90)" textLength="84.7" lengthAdjust="spacing">2010</text>
<text transform="translate(1997.7,1219.3) rotate(-90)" textLength="84.7" lengthAdjust="spacing">2010</text>
<text transform="translate(2066.5,864) rotate(-90)" textLength="84.7" lengthAdjust="spacing">2011</text>
<text transform="translate(2066.5,1219.3) rotate(-90)" textLength="84.7" lengthAdjust="spacing">2011</text>
<text transform="translate(2135.4,864) rotate(-90)" textLength="84.7" lengthAdjust="spacing">2012</text>
<text transform="translate(2135.4,1219.3) rotate(-90)" textLength="84.7" lengthAdjust="spacing">2012</text>
<text transform="translate(2204.3,864) rotate(-90)" textLength="84.7" lengthAdjust="spacing">2013</text>
<text transform="translate(2204.3,1219.3) rotate(-90)" textLength="84.7" lengthAdjust="spacing">2013</text>
<text transform="translate(2273.2,864) rotate(-90)" textLength="84.7" lengthAdjust="spacing">2014</text>
<text transform="translate(2273.2,1219.3) rotate(-90)" textLength="84.7" lengthAdjust="spacing">2014</text>
<text transform="translate(2342.1,864) rotate(-90)" textLength="84.7" lengthAdjust="spacing">2015</text>
<text transform="translate(2342.1,1219.3) rotate(-90)" textLength="84.7" lengthAdjust="spacing">2015</text>
<text transform="translate(2411.0,864) rotate(-90)" textLength="84.7" lengthAdjust="spacing">2016</text>
<text transform="translate(2411.0,1219.3) rotate(-90)" textLength="84.7" lengthAdjust="spacing">2016</text>
<text transform="translate(2479.8,864) rotate(-90)" textLength="84.7" lengthAdjust="spacing">2017</text>
<text transform="translate(2479.8,1219.3) rotate(-90)" textLength="84.7" lengthAdjust="spacing">2017</text>
<text transform="translate(2548.7,864) rotate(-90)" textLength="84.7" lengthAdjust="spacing">2018</text>
<text transform="translate(2548.7,1219.3) rotate(-90)" textLength="84.7" lengthAdjust="spacing">2018</text>
<text transform="translate(2617.6,864) rotate(-90)" textLength="84.7" lengthAdjust="spacing">2019</text>
<text transform="translate(2617.6,1219.3) rotate(-90)" textLength="84.7" lengthAdjust="spacing">2019</text>
<text transform="translate(2686.5,864) rotate(-90)" textLength="84.7" lengthAdjust="spacing">2020</text>
<text transform="translate(2686.5,1219.3) rotate(-90)" textLength="84.7" lengthAdjust="spacing">2020</text>
<text transform="translate(2755.4,864) rotate(-90)" textLength="84.7" lengthAdjust="spacing">2021</text>
<text transform="translate(2755.4,1219.3) rotate(-90)" textLength="84.7" lengthAdjust="spacing">2021</text>
<text transform="translate(2824.3,864) rotate(-90)" textLength="84.7" lengthAdjust="spacing">2022</text>
<text transform="translate(2824.3,1219.3) rotate(-90)" textLength="84.7" lengthAdjust="spacing">2022</text>
<text transform="translate(2893.2,864) rotate(-90)" textLength="84.7" lengthAdjust="spacing">2023</text>
<text transform="translate(2893.2,1219.3) rotate(-90)" textLength="84.7" lengthAdjust="spacing">2023</text>
<text transform="translate(2962.0,864) rotate(-90)" textLength="84.7" lengthAdjust="spacing">2024</text>
<text transform="translate(2962.0,1219.3) rotate(-90)" textLength="84.7" lengthAdjust="spacing">2024</text>
</g>
<g shape-rendering="crispEdges">
<rect x="174" y="1374" width="24" height="25" fill="#555C55"/>
<rect x="174" y="1427" width="24" height="24" fill="#4A2F1A"/>
<rect x="987" y="1374" width="25" height="25" fill="#5A3A1B"/>
<rect x="987" y="1427" width="25" height="24" fill="#979B95"/>
<rect x="1772" y="1374" width="24" height="25" fill="#8C6D4B"/>
<rect x="1772" y="1427" width="24" height="24" fill="#A81A12"/>
<rect x="2301" y="1374" width="24" height="25" fill="#236B10"/>
<rect x="2301" y="1427" width="24" height="24" fill="#5BBF41"/>
<rect x="2612" y="1374" width="24" height="25" fill="#E2E6E1"/>
</g>
<g class="lg">
<text x="223.01" y="1397.0" textLength="763.45" lengthAdjust="spacingAndGlyphs">[-8] Frage in diesem Jahr nicht Teil des Frageprogramms</text>
<text x="222.95" y="1450.2" textLength="762.09" lengthAdjust="spacingAndGlyphs">[-7] nur in weniger eingeschraenkter Edition verfuegbar</text>
<text x="1036.93" y="1397.0" textLength="755.16" lengthAdjust="spacingAndGlyphs">[-6] Fragebogenversion mit geaenderter Filterfuehrung</text>
<text x="1036.98" y="1450.2" textLength="567.78" lengthAdjust="spacingAndGlyphs">[-5] in Fragebogenversion nicht enthalten</text>
<text x="1821.87" y="1397.0" textLength="476.67" lengthAdjust="spacingAndGlyphs">[-4] unzulaessige Mehrfachantwort</text>
<text x="1821.83" y="1450.2" textLength="297.31" lengthAdjust="spacingAndGlyphs">[-3] unplausibler Wert</text>
<text x="2350.82" y="1397.0" textLength="229.22" lengthAdjust="spacingAndGlyphs">[-2] trifft nicht zu</text>
<text x="2351.09" y="1450.2" textLength="239.95" lengthAdjust="spacingAndGlyphs">[-1] keine Angabe</text>
<text x="2662.17" y="1397.0" textLength="306.85" lengthAdjust="spacingAndGlyphs">gültige Observationen</text>
</g>
</svg></body></html>
